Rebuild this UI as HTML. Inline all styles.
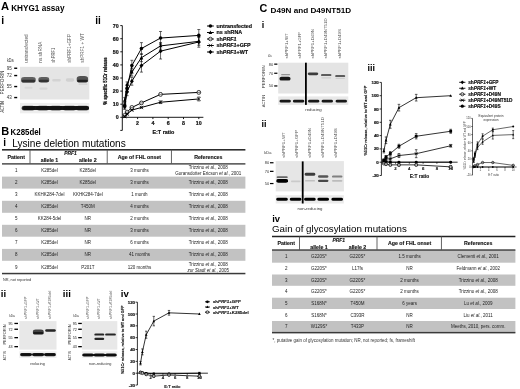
<!DOCTYPE html>
<html><head><meta charset="utf-8"><style>
html,body{margin:0;padding:0;background:#fff;width:520px;height:389px;overflow:hidden}
svg{display:block;will-change:transform}
text{font-family:'Liberation Sans', sans-serif;}
</style></head><body>
<svg width="520" height="389" viewBox="0 0 520 389">
<defs>
<filter id="b3" x="-50%" y="-100%" width="200%" height="300%"><feGaussianBlur stdDeviation="0.3"/></filter>
<filter id="b6" x="-50%" y="-100%" width="200%" height="300%"><feGaussianBlur stdDeviation="0.6"/></filter>
<filter id="b10" x="-50%" y="-100%" width="200%" height="300%"><feGaussianBlur stdDeviation="1.0"/></filter>
</defs>
<rect width="520" height="389" fill="#fff"/>
<text x="0.90" y="10.30" font-size="11.2" font-weight="bold" >A</text>
<text x="11.20" y="10.70" font-size="8.2" font-weight="bold" >KHYG1 assay</text>
<text x="1.30" y="24.10" font-size="10.4" font-weight="bold" >i</text>
<text x="95.20" y="23.90" font-size="10.0" font-weight="bold" >ii</text>
<text transform="translate(27.80,62.70) rotate(-90)" font-size="4.6" fill="#5a5a5a" textLength="28.300000000000004" lengthAdjust="spacingAndGlyphs" >untransfected</text>
<text transform="translate(42.10,62.70) rotate(-90)" font-size="4.6" fill="#5a5a5a" textLength="21.0" lengthAdjust="spacingAndGlyphs" >ns shRNA</text>
<text transform="translate(55.20,62.70) rotate(-90)" font-size="4.6" fill="#5a5a5a" textLength="14.900000000000006" lengthAdjust="spacingAndGlyphs" >shPRF1</text>
<text transform="translate(70.90,62.70) rotate(-90)" font-size="4.6" fill="#5a5a5a" textLength="28.700000000000003" lengthAdjust="spacingAndGlyphs" >shPRF1+GFP</text>
<text transform="translate(84.40,62.70) rotate(-90)" font-size="4.6" fill="#5a5a5a" textLength="29.5" lengthAdjust="spacingAndGlyphs" >shPRF1 + WT</text>
<text x="7.00" y="61.50" font-size="4.5" fill="#333" textLength="6.6" lengthAdjust="spacingAndGlyphs" >kDa</text>
<rect x="20.00" y="66.80" width="69.30" height="32.70" fill="#e5e5e5"/>
<rect x="20.00" y="102.90" width="69.30" height="10.40" fill="#eeeeee"/>
<text x="11.80" y="69.80" font-size="4.5" text-anchor="end" fill="#333" >95</text>
<rect x="14.20" y="67.55" width="3.00" height="1.40" fill="#000"/>
<text x="11.80" y="77.10" font-size="4.5" text-anchor="end" fill="#333" >72</text>
<rect x="14.20" y="74.85" width="3.00" height="1.40" fill="#000"/>
<text x="11.80" y="88.10" font-size="4.5" text-anchor="end" fill="#333" >55</text>
<rect x="14.20" y="85.85" width="3.00" height="1.40" fill="#000"/>
<text x="11.80" y="99.10" font-size="4.5" text-anchor="end" fill="#333" >43</text>
<rect x="14.20" y="96.85" width="3.00" height="1.40" fill="#000"/>
<text transform="translate(4.30,94.60) rotate(-90)" font-size="4.7" fill="#222" textLength="24.0" lengthAdjust="spacingAndGlyphs" >PERFORIN</text>
<text transform="translate(4.30,112.60) rotate(-90)" font-size="4.7" fill="#222" textLength="11.4" lengthAdjust="spacingAndGlyphs" >ACTIN</text>
<rect x="21.10" y="76.90" width="14.60" height="5.80" rx="3.19" ry="2.32" fill="#4a4a4a" opacity="0.85" filter="url(#b6)"/>
<rect x="21.60" y="79.80" width="13.60" height="2.40" rx="1.32" ry="0.96" fill="#111" opacity="0.55" filter="url(#b6)"/>
<rect x="38.40" y="77.00" width="10.80" height="5.60" rx="3.08" ry="2.24" fill="#4a4a4a" opacity="0.85" filter="url(#b6)"/>
<rect x="38.80" y="79.80" width="10.00" height="2.40" rx="1.32" ry="0.96" fill="#111" opacity="0.55" filter="url(#b6)"/>
<rect x="52.25" y="79.00" width="8.50" height="2.40" rx="1.32" ry="0.96" fill="#aaa" opacity="0.3" filter="url(#b6)"/>
<rect x="65.90" y="78.30" width="8.20" height="3.40" rx="1.87" ry="1.36" fill="#aaa" opacity="0.33" filter="url(#b6)"/>
<rect x="76.70" y="76.00" width="11.40" height="6.60" rx="3.63" ry="2.64" fill="#404040" opacity="0.88" filter="url(#b6)"/>
<rect x="77.20" y="79.80" width="10.60" height="2.40" rx="1.32" ry="0.96" fill="#000" opacity="0.6" filter="url(#b6)"/>
<rect x="24.50" y="86.80" width="8.00" height="2.00" rx="1.10" ry="0.80" fill="#aaa" opacity="0.2" filter="url(#b6)"/>
<rect x="39.50" y="87.40" width="8.00" height="2.40" rx="1.32" ry="0.96" fill="#aaa" opacity="0.25" filter="url(#b6)"/>
<rect x="78.50" y="83.60" width="9.00" height="1.20" rx="0.66" ry="0.48" fill="#999" opacity="0.3" filter="url(#b6)"/>
<rect x="22.20" y="106.10" width="66.80" height="4.00" rx="2.20" ry="1.60" fill="#111" opacity="0.95" filter="url(#b6)"/>
<rect x="21.55" y="105.80" width="13.50" height="4.60" rx="2.53" ry="1.84" fill="#0d0d0d" opacity="0.6" filter="url(#b6)"/>
<rect x="36.55" y="105.80" width="12.50" height="4.60" rx="2.53" ry="1.84" fill="#0d0d0d" opacity="0.6" filter="url(#b6)"/>
<rect x="49.55" y="105.80" width="12.50" height="4.60" rx="2.53" ry="1.84" fill="#0d0d0d" opacity="0.6" filter="url(#b6)"/>
<rect x="62.75" y="105.80" width="13.50" height="4.60" rx="2.53" ry="1.84" fill="#0d0d0d" opacity="0.6" filter="url(#b6)"/>
<rect x="76.00" y="105.80" width="13.00" height="4.60" rx="2.53" ry="1.84" fill="#0d0d0d" opacity="0.6" filter="url(#b6)"/>
<line x1="122.30" y1="25.60" x2="122.30" y2="130.40" stroke="#000" stroke-width="0.9"/>
<line x1="120.30" y1="130.40" x2="122.30" y2="130.40" stroke="#000" stroke-width="0.9"/>
<line x1="122.30" y1="117.30" x2="203.39" y2="117.30" stroke="#000" stroke-width="0.9"/>
<line x1="120.30" y1="117.30" x2="122.30" y2="117.30" stroke="#000" stroke-width="0.9"/>
<text x="118.70" y="119.20" font-size="5.3" stroke="#111" stroke-width="0.2" font-weight="bold" text-anchor="end" fill="#111" >0</text>
<line x1="120.30" y1="104.20" x2="122.30" y2="104.20" stroke="#000" stroke-width="0.9"/>
<text x="118.70" y="106.10" font-size="5.3" stroke="#111" stroke-width="0.2" font-weight="bold" text-anchor="end" fill="#111" >10</text>
<line x1="120.30" y1="91.10" x2="122.30" y2="91.10" stroke="#000" stroke-width="0.9"/>
<text x="118.70" y="93.00" font-size="5.3" stroke="#111" stroke-width="0.2" font-weight="bold" text-anchor="end" fill="#111" >20</text>
<line x1="120.30" y1="78.00" x2="122.30" y2="78.00" stroke="#000" stroke-width="0.9"/>
<text x="118.70" y="79.90" font-size="5.3" stroke="#111" stroke-width="0.2" font-weight="bold" text-anchor="end" fill="#111" >30</text>
<line x1="120.30" y1="64.90" x2="122.30" y2="64.90" stroke="#000" stroke-width="0.9"/>
<text x="118.70" y="66.80" font-size="5.3" stroke="#111" stroke-width="0.2" font-weight="bold" text-anchor="end" fill="#111" >40</text>
<line x1="120.30" y1="51.80" x2="122.30" y2="51.80" stroke="#000" stroke-width="0.9"/>
<text x="118.70" y="53.70" font-size="5.3" stroke="#111" stroke-width="0.2" font-weight="bold" text-anchor="end" fill="#111" >50</text>
<line x1="120.30" y1="38.70" x2="122.30" y2="38.70" stroke="#000" stroke-width="0.9"/>
<text x="118.70" y="40.60" font-size="5.3" stroke="#111" stroke-width="0.2" font-weight="bold" text-anchor="end" fill="#111" >60</text>
<line x1="120.30" y1="25.60" x2="122.30" y2="25.60" stroke="#000" stroke-width="0.9"/>
<text x="118.70" y="27.50" font-size="5.3" stroke="#111" stroke-width="0.2" font-weight="bold" text-anchor="end" fill="#111" >70</text>
<line x1="137.60" y1="117.30" x2="137.60" y2="119.10" stroke="#000" stroke-width="0.9"/>
<text x="137.60" y="124.50" font-size="5.3" stroke="#111" stroke-width="0.2" font-weight="bold" text-anchor="middle" fill="#111" >2</text>
<line x1="152.90" y1="117.30" x2="152.90" y2="119.10" stroke="#000" stroke-width="0.9"/>
<text x="152.90" y="124.50" font-size="5.3" stroke="#111" stroke-width="0.2" font-weight="bold" text-anchor="middle" fill="#111" >4</text>
<line x1="168.20" y1="117.30" x2="168.20" y2="119.10" stroke="#000" stroke-width="0.9"/>
<text x="168.20" y="124.50" font-size="5.3" stroke="#111" stroke-width="0.2" font-weight="bold" text-anchor="middle" fill="#111" >6</text>
<line x1="183.50" y1="117.30" x2="183.50" y2="119.10" stroke="#000" stroke-width="0.9"/>
<text x="183.50" y="124.50" font-size="5.3" stroke="#111" stroke-width="0.2" font-weight="bold" text-anchor="middle" fill="#111" >8</text>
<line x1="198.80" y1="117.30" x2="198.80" y2="119.10" stroke="#000" stroke-width="0.9"/>
<text x="198.80" y="124.50" font-size="5.3" stroke="#111" stroke-width="0.2" font-weight="bold" text-anchor="middle" fill="#111" >10</text>
<text x="163.40" y="133.80" font-size="5.4" stroke="#111" stroke-width="0.2" font-weight="bold" text-anchor="middle" fill="#111" >E:T ratio</text>
<text transform="translate(107.20,104.80) rotate(-90)" font-size="5.0" stroke="#111" stroke-width="0.25" font-weight="bold" fill="#111" textLength="47.5" lengthAdjust="spacingAndGlyphs" >% specific 51Cr release</text>
<path d="M124.69,105.51 L127.08,88.48 L131.86,65.55 L141.43,48.52 L160.55,38.04 L198.80,35.42" fill="none" stroke="#000" stroke-width="1.0"/>
<line x1="124.69" y1="102.89" x2="124.69" y2="108.13" stroke="#000" stroke-width="0.6"/>
<line x1="123.19" y1="102.89" x2="126.19" y2="102.89" stroke="#000" stroke-width="0.6"/>
<line x1="123.19" y1="108.13" x2="126.19" y2="108.13" stroke="#000" stroke-width="0.6"/>
<line x1="127.08" y1="84.55" x2="127.08" y2="92.41" stroke="#000" stroke-width="0.6"/>
<line x1="125.58" y1="84.55" x2="128.58" y2="84.55" stroke="#000" stroke-width="0.6"/>
<line x1="125.58" y1="92.41" x2="128.58" y2="92.41" stroke="#000" stroke-width="0.6"/>
<line x1="131.86" y1="60.31" x2="131.86" y2="70.79" stroke="#000" stroke-width="0.6"/>
<line x1="130.36" y1="60.31" x2="133.36" y2="60.31" stroke="#000" stroke-width="0.6"/>
<line x1="130.36" y1="70.79" x2="133.36" y2="70.79" stroke="#000" stroke-width="0.6"/>
<line x1="141.43" y1="42.63" x2="141.43" y2="54.42" stroke="#000" stroke-width="0.6"/>
<line x1="139.93" y1="42.63" x2="142.93" y2="42.63" stroke="#000" stroke-width="0.6"/>
<line x1="139.93" y1="54.42" x2="142.93" y2="54.42" stroke="#000" stroke-width="0.6"/>
<line x1="160.55" y1="31.49" x2="160.55" y2="44.59" stroke="#000" stroke-width="0.6"/>
<line x1="159.05" y1="31.49" x2="162.05" y2="31.49" stroke="#000" stroke-width="0.6"/>
<line x1="159.05" y1="44.59" x2="162.05" y2="44.59" stroke="#000" stroke-width="0.6"/>
<line x1="198.80" y1="29.53" x2="198.80" y2="41.32" stroke="#000" stroke-width="0.6"/>
<line x1="197.30" y1="29.53" x2="200.30" y2="29.53" stroke="#000" stroke-width="0.6"/>
<line x1="197.30" y1="41.32" x2="200.30" y2="41.32" stroke="#000" stroke-width="0.6"/>
<circle cx="124.69" cy="105.51" r="1.80" fill="#000"/>
<circle cx="127.08" cy="88.48" r="1.80" fill="#000"/>
<circle cx="131.86" cy="65.55" r="1.80" fill="#000"/>
<circle cx="141.43" cy="48.52" r="1.80" fill="#000"/>
<circle cx="160.55" cy="38.04" r="1.80" fill="#000"/>
<circle cx="198.80" cy="35.42" r="1.80" fill="#000"/>
<path d="M124.69,100.27 L127.08,84.55 L131.86,72.10 L141.43,57.69 L160.55,45.91 L198.80,41.32" fill="none" stroke="#000" stroke-width="1.0"/>
<line x1="124.69" y1="97.65" x2="124.69" y2="102.89" stroke="#000" stroke-width="0.6"/>
<line x1="123.19" y1="97.65" x2="126.19" y2="97.65" stroke="#000" stroke-width="0.6"/>
<line x1="123.19" y1="102.89" x2="126.19" y2="102.89" stroke="#000" stroke-width="0.6"/>
<line x1="127.08" y1="81.93" x2="127.08" y2="87.17" stroke="#000" stroke-width="0.6"/>
<line x1="125.58" y1="81.93" x2="128.58" y2="81.93" stroke="#000" stroke-width="0.6"/>
<line x1="125.58" y1="87.17" x2="128.58" y2="87.17" stroke="#000" stroke-width="0.6"/>
<line x1="131.86" y1="68.17" x2="131.86" y2="76.03" stroke="#000" stroke-width="0.6"/>
<line x1="130.36" y1="68.17" x2="133.36" y2="68.17" stroke="#000" stroke-width="0.6"/>
<line x1="130.36" y1="76.03" x2="133.36" y2="76.03" stroke="#000" stroke-width="0.6"/>
<line x1="141.43" y1="53.76" x2="141.43" y2="61.62" stroke="#000" stroke-width="0.6"/>
<line x1="139.93" y1="53.76" x2="142.93" y2="53.76" stroke="#000" stroke-width="0.6"/>
<line x1="139.93" y1="61.62" x2="142.93" y2="61.62" stroke="#000" stroke-width="0.6"/>
<line x1="160.55" y1="42.63" x2="160.55" y2="49.18" stroke="#000" stroke-width="0.6"/>
<line x1="159.05" y1="42.63" x2="162.05" y2="42.63" stroke="#000" stroke-width="0.6"/>
<line x1="159.05" y1="49.18" x2="162.05" y2="49.18" stroke="#000" stroke-width="0.6"/>
<line x1="198.80" y1="37.39" x2="198.80" y2="45.25" stroke="#000" stroke-width="0.6"/>
<line x1="197.30" y1="37.39" x2="200.30" y2="37.39" stroke="#000" stroke-width="0.6"/>
<line x1="197.30" y1="45.25" x2="200.30" y2="45.25" stroke="#000" stroke-width="0.6"/>
<path d="M124.69,98.29 L126.49,101.71 L122.89,101.71Z" fill="#000"/>
<path d="M127.08,82.57 L128.88,85.99 L125.28,85.99Z" fill="#000"/>
<path d="M131.86,70.12 L133.66,73.54 L130.06,73.54Z" fill="#000"/>
<path d="M141.43,55.71 L143.23,59.13 L139.62,59.13Z" fill="#000"/>
<path d="M160.55,43.93 L162.35,47.34 L158.75,47.34Z" fill="#000"/>
<path d="M198.80,39.34 L200.60,42.76 L197.00,42.76Z" fill="#000"/>
<path d="M124.69,115.33 L127.08,112.06 L131.86,107.47 L141.43,102.89 L160.55,94.38 L198.80,92.41" fill="none" stroke="#000" stroke-width="1.0"/>
<line x1="124.69" y1="114.68" x2="124.69" y2="115.99" stroke="#000" stroke-width="0.6"/>
<line x1="123.19" y1="114.68" x2="126.19" y2="114.68" stroke="#000" stroke-width="0.6"/>
<line x1="123.19" y1="115.99" x2="126.19" y2="115.99" stroke="#000" stroke-width="0.6"/>
<line x1="127.08" y1="111.01" x2="127.08" y2="113.11" stroke="#000" stroke-width="0.6"/>
<line x1="125.58" y1="111.01" x2="128.58" y2="111.01" stroke="#000" stroke-width="0.6"/>
<line x1="125.58" y1="113.11" x2="128.58" y2="113.11" stroke="#000" stroke-width="0.6"/>
<line x1="131.86" y1="106.16" x2="131.86" y2="108.78" stroke="#000" stroke-width="0.6"/>
<line x1="130.36" y1="106.16" x2="133.36" y2="106.16" stroke="#000" stroke-width="0.6"/>
<line x1="130.36" y1="108.78" x2="133.36" y2="108.78" stroke="#000" stroke-width="0.6"/>
<line x1="141.43" y1="101.58" x2="141.43" y2="104.20" stroke="#000" stroke-width="0.6"/>
<line x1="139.93" y1="101.58" x2="142.93" y2="101.58" stroke="#000" stroke-width="0.6"/>
<line x1="139.93" y1="104.20" x2="142.93" y2="104.20" stroke="#000" stroke-width="0.6"/>
<line x1="160.55" y1="93.06" x2="160.55" y2="95.69" stroke="#000" stroke-width="0.6"/>
<line x1="159.05" y1="93.06" x2="162.05" y2="93.06" stroke="#000" stroke-width="0.6"/>
<line x1="159.05" y1="95.69" x2="162.05" y2="95.69" stroke="#000" stroke-width="0.6"/>
<line x1="198.80" y1="91.10" x2="198.80" y2="93.72" stroke="#000" stroke-width="0.6"/>
<line x1="197.30" y1="91.10" x2="200.30" y2="91.10" stroke="#000" stroke-width="0.6"/>
<line x1="197.30" y1="93.72" x2="200.30" y2="93.72" stroke="#000" stroke-width="0.6"/>
<circle cx="124.69" cy="115.33" r="1.90" fill="#fff" stroke="#000" stroke-width="0.7"/>
<line x1="122.79" y1="115.33" x2="126.59" y2="115.33" stroke="#000" stroke-width="0.5"/>
<circle cx="127.08" cy="112.06" r="1.90" fill="#fff" stroke="#000" stroke-width="0.7"/>
<line x1="125.18" y1="112.06" x2="128.98" y2="112.06" stroke="#000" stroke-width="0.5"/>
<circle cx="131.86" cy="107.47" r="1.90" fill="#fff" stroke="#000" stroke-width="0.7"/>
<line x1="129.96" y1="107.47" x2="133.76" y2="107.47" stroke="#000" stroke-width="0.5"/>
<circle cx="141.43" cy="102.89" r="1.90" fill="#fff" stroke="#000" stroke-width="0.7"/>
<line x1="139.53" y1="102.89" x2="143.33" y2="102.89" stroke="#000" stroke-width="0.5"/>
<circle cx="160.55" cy="94.38" r="1.90" fill="#fff" stroke="#000" stroke-width="0.7"/>
<line x1="158.65" y1="94.38" x2="162.45" y2="94.38" stroke="#000" stroke-width="0.5"/>
<circle cx="198.80" cy="92.41" r="1.90" fill="#fff" stroke="#000" stroke-width="0.7"/>
<line x1="196.90" y1="92.41" x2="200.70" y2="92.41" stroke="#000" stroke-width="0.5"/>
<path d="M124.69,116.64 L127.08,114.02 L131.86,110.09 L141.43,107.47 L160.55,102.23 L198.80,98.96" fill="none" stroke="#000" stroke-width="1.0"/>
<line x1="124.69" y1="115.99" x2="124.69" y2="117.30" stroke="#000" stroke-width="0.6"/>
<line x1="123.19" y1="115.99" x2="126.19" y2="115.99" stroke="#000" stroke-width="0.6"/>
<line x1="123.19" y1="117.30" x2="126.19" y2="117.30" stroke="#000" stroke-width="0.6"/>
<line x1="127.08" y1="113.37" x2="127.08" y2="114.68" stroke="#000" stroke-width="0.6"/>
<line x1="125.58" y1="113.37" x2="128.58" y2="113.37" stroke="#000" stroke-width="0.6"/>
<line x1="125.58" y1="114.68" x2="128.58" y2="114.68" stroke="#000" stroke-width="0.6"/>
<line x1="131.86" y1="109.44" x2="131.86" y2="110.75" stroke="#000" stroke-width="0.6"/>
<line x1="130.36" y1="109.44" x2="133.36" y2="109.44" stroke="#000" stroke-width="0.6"/>
<line x1="130.36" y1="110.75" x2="133.36" y2="110.75" stroke="#000" stroke-width="0.6"/>
<line x1="141.43" y1="106.82" x2="141.43" y2="108.13" stroke="#000" stroke-width="0.6"/>
<line x1="139.93" y1="106.82" x2="142.93" y2="106.82" stroke="#000" stroke-width="0.6"/>
<line x1="139.93" y1="108.13" x2="142.93" y2="108.13" stroke="#000" stroke-width="0.6"/>
<line x1="160.55" y1="100.92" x2="160.55" y2="103.55" stroke="#000" stroke-width="0.6"/>
<line x1="159.05" y1="100.92" x2="162.05" y2="100.92" stroke="#000" stroke-width="0.6"/>
<line x1="159.05" y1="103.55" x2="162.05" y2="103.55" stroke="#000" stroke-width="0.6"/>
<line x1="198.80" y1="97.00" x2="198.80" y2="100.92" stroke="#000" stroke-width="0.6"/>
<line x1="197.30" y1="97.00" x2="200.30" y2="97.00" stroke="#000" stroke-width="0.6"/>
<line x1="197.30" y1="100.92" x2="200.30" y2="100.92" stroke="#000" stroke-width="0.6"/>
<line x1="122.99" y1="114.94" x2="126.39" y2="118.34" stroke="#000" stroke-width="0.7"/>
<line x1="122.99" y1="118.34" x2="126.39" y2="114.94" stroke="#000" stroke-width="0.7"/>
<line x1="125.38" y1="112.32" x2="128.78" y2="115.72" stroke="#000" stroke-width="0.7"/>
<line x1="125.38" y1="115.72" x2="128.78" y2="112.32" stroke="#000" stroke-width="0.7"/>
<line x1="130.16" y1="108.39" x2="133.56" y2="111.80" stroke="#000" stroke-width="0.7"/>
<line x1="130.16" y1="111.80" x2="133.56" y2="108.39" stroke="#000" stroke-width="0.7"/>
<line x1="139.73" y1="105.77" x2="143.12" y2="109.17" stroke="#000" stroke-width="0.7"/>
<line x1="139.73" y1="109.17" x2="143.12" y2="105.77" stroke="#000" stroke-width="0.7"/>
<line x1="158.85" y1="100.53" x2="162.25" y2="103.94" stroke="#000" stroke-width="0.7"/>
<line x1="158.85" y1="103.94" x2="162.25" y2="100.53" stroke="#000" stroke-width="0.7"/>
<line x1="197.10" y1="97.26" x2="200.50" y2="100.66" stroke="#000" stroke-width="0.7"/>
<line x1="197.10" y1="100.66" x2="200.50" y2="97.26" stroke="#000" stroke-width="0.7"/>
<path d="M124.69,106.82 L127.08,91.75 L131.86,81.28 L141.43,65.55 L160.55,51.14 L198.80,41.97" fill="none" stroke="#000" stroke-width="1.0"/>
<line x1="124.69" y1="104.20" x2="124.69" y2="109.44" stroke="#000" stroke-width="0.6"/>
<line x1="123.19" y1="104.20" x2="126.19" y2="104.20" stroke="#000" stroke-width="0.6"/>
<line x1="123.19" y1="109.44" x2="126.19" y2="109.44" stroke="#000" stroke-width="0.6"/>
<line x1="127.08" y1="87.82" x2="127.08" y2="95.69" stroke="#000" stroke-width="0.6"/>
<line x1="125.58" y1="87.82" x2="128.58" y2="87.82" stroke="#000" stroke-width="0.6"/>
<line x1="125.58" y1="95.69" x2="128.58" y2="95.69" stroke="#000" stroke-width="0.6"/>
<line x1="131.86" y1="77.34" x2="131.86" y2="85.20" stroke="#000" stroke-width="0.6"/>
<line x1="130.36" y1="77.34" x2="133.36" y2="77.34" stroke="#000" stroke-width="0.6"/>
<line x1="130.36" y1="85.20" x2="133.36" y2="85.20" stroke="#000" stroke-width="0.6"/>
<line x1="141.43" y1="59.00" x2="141.43" y2="72.10" stroke="#000" stroke-width="0.6"/>
<line x1="139.93" y1="59.00" x2="142.93" y2="59.00" stroke="#000" stroke-width="0.6"/>
<line x1="139.93" y1="72.10" x2="142.93" y2="72.10" stroke="#000" stroke-width="0.6"/>
<line x1="160.55" y1="43.28" x2="160.55" y2="59.00" stroke="#000" stroke-width="0.6"/>
<line x1="159.05" y1="43.28" x2="162.05" y2="43.28" stroke="#000" stroke-width="0.6"/>
<line x1="159.05" y1="59.00" x2="162.05" y2="59.00" stroke="#000" stroke-width="0.6"/>
<line x1="198.80" y1="36.73" x2="198.80" y2="47.21" stroke="#000" stroke-width="0.6"/>
<line x1="197.30" y1="36.73" x2="200.30" y2="36.73" stroke="#000" stroke-width="0.6"/>
<line x1="197.30" y1="47.21" x2="200.30" y2="47.21" stroke="#000" stroke-width="0.6"/>
<path d="M124.69,104.66 L126.67,106.82 L124.69,108.98 L122.71,106.82Z" fill="#000"/>
<path d="M127.08,89.59 L129.06,91.75 L127.08,93.91 L125.10,91.75Z" fill="#000"/>
<path d="M131.86,79.12 L133.84,81.28 L131.86,83.44 L129.88,81.28Z" fill="#000"/>
<path d="M141.43,63.39 L143.41,65.55 L141.43,67.71 L139.45,65.55Z" fill="#000"/>
<path d="M160.55,48.98 L162.53,51.14 L160.55,53.30 L158.57,51.14Z" fill="#000"/>
<path d="M198.80,39.81 L200.78,41.97 L198.80,44.13 L196.82,41.97Z" fill="#000"/>
<line x1="207.00" y1="26.00" x2="213.80" y2="26.00" stroke="#000" stroke-width="1.0"/>
<circle cx="210.40" cy="26.00" r="1.80" fill="#000"/>
<text x="216.60" y="27.90" font-size="5.35" stroke="#111" stroke-width="0.2" font-weight="bold" fill="#111" >untransfected</text>
<line x1="207.00" y1="32.50" x2="213.80" y2="32.50" stroke="#000" stroke-width="1.0"/>
<path d="M210.40,30.52 L212.20,33.94 L208.60,33.94Z" fill="#000"/>
<text x="216.60" y="34.40" font-size="5.35" stroke="#111" stroke-width="0.2" font-weight="bold" fill="#111" >ns shRNA</text>
<line x1="207.00" y1="39.00" x2="213.80" y2="39.00" stroke="#000" stroke-width="1.0"/>
<circle cx="210.40" cy="39.00" r="1.80" fill="#fff" stroke="#000" stroke-width="0.7"/>
<line x1="208.60" y1="39.00" x2="212.20" y2="39.00" stroke="#000" stroke-width="0.5"/>
<text x="216.60" y="40.90" font-size="5.35" stroke="#111" stroke-width="0.2" font-weight="bold" fill="#111" >sh<tspan font-style="italic">PRF1</tspan></text>
<line x1="207.00" y1="45.50" x2="213.80" y2="45.50" stroke="#000" stroke-width="1.0"/>
<line x1="208.60" y1="43.70" x2="212.20" y2="47.30" stroke="#000" stroke-width="0.7"/>
<line x1="208.60" y1="47.30" x2="212.20" y2="43.70" stroke="#000" stroke-width="0.7"/>
<text x="216.60" y="47.40" font-size="5.35" stroke="#111" stroke-width="0.2" font-weight="bold" fill="#111" >sh<tspan font-style="italic">PRF1</tspan>+GFP</text>
<line x1="207.00" y1="52.00" x2="213.80" y2="52.00" stroke="#000" stroke-width="1.0"/>
<path d="M210.40,49.84 L212.38,52.00 L210.40,54.16 L208.42,52.00Z" fill="#000"/>
<text x="216.60" y="53.90" font-size="5.35" stroke="#111" stroke-width="0.2" font-weight="bold" fill="#111" >sh<tspan font-style="italic">PRF1</tspan>+WT</text>
<text x="1.30" y="135.20" font-size="11.0" font-weight="bold" >B</text>
<text x="10.60" y="135.10" font-size="8.4" font-weight="bold" textLength="30.2" lengthAdjust="spacingAndGlyphs" >K285del</text>
<text x="3.30" y="146.40" font-size="10.0" font-weight="bold" >i</text>
<text x="12.20" y="146.60" font-size="10.1" textLength="113.6" lengthAdjust="spacingAndGlyphs" >Lysine deletion mutations</text>
<rect x="2.00" y="149.05" width="243.40" height="1.50" fill="#222"/>
<rect x="2.00" y="176.60" width="243.40" height="12.00" fill="#c2c2c2"/>
<rect x="2.00" y="200.80" width="243.40" height="12.00" fill="#c2c2c2"/>
<rect x="2.00" y="224.80" width="243.40" height="11.90" fill="#c2c2c2"/>
<rect x="2.00" y="248.90" width="243.40" height="11.90" fill="#c2c2c2"/>
<rect x="2.00" y="163.30" width="243.40" height="1.20" fill="#222"/>
<rect x="2.00" y="272.80" width="243.40" height="1.50" fill="#3a3a3a"/>
<rect x="29.55" y="149.80" width="0.90" height="14.10" fill="#555"/>
<rect x="106.75" y="149.80" width="0.90" height="14.10" fill="#555"/>
<rect x="170.95" y="149.80" width="0.90" height="14.10" fill="#555"/>
<text x="16.20" y="158.80" font-size="5.25" stroke="#111" stroke-width="0.12" font-weight="bold" text-anchor="middle" fill="#111" >Patient</text>
<text x="70.50" y="155.20" font-size="4.9" stroke="#111" stroke-width="0.12" font-weight="bold" text-anchor="middle" font-style="italic" fill="#111" >PRF1</text>
<text x="49.50" y="161.80" font-size="5.25" stroke="#111" stroke-width="0.12" font-weight="bold" text-anchor="middle" fill="#111" >allele 1</text>
<text x="87.80" y="161.80" font-size="5.25" stroke="#111" stroke-width="0.12" font-weight="bold" text-anchor="middle" fill="#111" >allele 2</text>
<text x="139.40" y="158.80" font-size="5.25" stroke="#111" stroke-width="0.12" font-weight="bold" text-anchor="middle" fill="#111" >Age of FHL onset</text>
<text x="208.30" y="158.80" font-size="5.25" stroke="#111" stroke-width="0.12" font-weight="bold" text-anchor="middle" fill="#111" >References</text>
<text x="16.20" y="171.92" font-size="4.5" text-anchor="middle" fill="#222" >1</text>
<text x="49.50" y="171.92" font-size="4.5" text-anchor="middle" fill="#222" >K285del</text>
<text x="87.80" y="171.92" font-size="4.5" text-anchor="middle" fill="#222" >K285del</text>
<text x="139.40" y="171.92" font-size="4.5" text-anchor="middle" fill="#222" >3 months</text>
<text x="208.30" y="169.12" font-size="4.5" text-anchor="middle" fill="#222" >Trizzino <tspan font-style="italic">et al.</tspan>, 2008</text>
<text x="208.30" y="174.72" font-size="4.5" text-anchor="middle" fill="#222" >Goransdotter Ericson <tspan font-style="italic">et al.</tspan>, 2001</text>
<text x="16.20" y="184.22" font-size="4.5" text-anchor="middle" fill="#222" >2</text>
<text x="49.50" y="184.22" font-size="4.5" text-anchor="middle" fill="#222" >K285del</text>
<text x="87.80" y="184.22" font-size="4.5" text-anchor="middle" fill="#222" >K285del</text>
<text x="139.40" y="184.22" font-size="4.5" text-anchor="middle" fill="#222" >3 months</text>
<text x="208.30" y="184.22" font-size="4.5" text-anchor="middle" fill="#222" >Trizzino <tspan font-style="italic">et al.</tspan>, 2008</text>
<text x="16.20" y="196.32" font-size="4.5" text-anchor="middle" fill="#222" >3</text>
<text x="49.50" y="196.32" font-size="4.5" text-anchor="middle" fill="#222" >KKHK284-7del</text>
<text x="87.80" y="196.32" font-size="4.5" text-anchor="middle" fill="#222" >KKHK284-7del</text>
<text x="139.40" y="196.32" font-size="4.5" text-anchor="middle" fill="#222" >1 month</text>
<text x="208.30" y="196.32" font-size="4.5" text-anchor="middle" fill="#222" >Trizzino <tspan font-style="italic">et al.</tspan>, 2008</text>
<text x="16.20" y="208.42" font-size="4.5" text-anchor="middle" fill="#222" >4</text>
<text x="49.50" y="208.42" font-size="4.5" text-anchor="middle" fill="#222" >K285del</text>
<text x="87.80" y="208.42" font-size="4.5" text-anchor="middle" fill="#222" >T450M</text>
<text x="139.40" y="208.42" font-size="4.5" text-anchor="middle" fill="#222" >4 months</text>
<text x="208.30" y="208.42" font-size="4.5" text-anchor="middle" fill="#222" >Trizzino <tspan font-style="italic">et al.</tspan>, 2008</text>
<text x="16.20" y="220.42" font-size="4.5" text-anchor="middle" fill="#222" >5</text>
<text x="49.50" y="220.42" font-size="4.5" text-anchor="middle" fill="#222" >KK284-5del</text>
<text x="87.80" y="220.42" font-size="4.5" text-anchor="middle" fill="#222" >NR</text>
<text x="139.40" y="220.42" font-size="4.5" text-anchor="middle" fill="#222" >2 months</text>
<text x="208.30" y="220.42" font-size="4.5" text-anchor="middle" fill="#222" >Trizzino <tspan font-style="italic">et al.</tspan>, 2008</text>
<text x="16.20" y="232.37" font-size="4.5" text-anchor="middle" fill="#222" >6</text>
<text x="49.50" y="232.37" font-size="4.5" text-anchor="middle" fill="#222" >K285del</text>
<text x="87.80" y="232.37" font-size="4.5" text-anchor="middle" fill="#222" >NR</text>
<text x="139.40" y="232.37" font-size="4.5" text-anchor="middle" fill="#222" >3 months</text>
<text x="208.30" y="232.37" font-size="4.5" text-anchor="middle" fill="#222" >Trizzino <tspan font-style="italic">et al.</tspan>, 2008</text>
<text x="16.20" y="244.42" font-size="4.5" text-anchor="middle" fill="#222" >7</text>
<text x="49.50" y="244.42" font-size="4.5" text-anchor="middle" fill="#222" >K285del</text>
<text x="87.80" y="244.42" font-size="4.5" text-anchor="middle" fill="#222" >NR</text>
<text x="139.40" y="244.42" font-size="4.5" text-anchor="middle" fill="#222" >6 months</text>
<text x="208.30" y="244.42" font-size="4.5" text-anchor="middle" fill="#222" >Trizzino <tspan font-style="italic">et al.</tspan>, 2008</text>
<text x="16.20" y="256.47" font-size="4.5" text-anchor="middle" fill="#222" >8</text>
<text x="49.50" y="256.47" font-size="4.5" text-anchor="middle" fill="#222" >K285del</text>
<text x="87.80" y="256.47" font-size="4.5" text-anchor="middle" fill="#222" >NR</text>
<text x="139.40" y="256.47" font-size="4.5" text-anchor="middle" fill="#222" >41 months</text>
<text x="208.30" y="256.47" font-size="4.5" text-anchor="middle" fill="#222" >Trizzino <tspan font-style="italic">et al.</tspan>, 2008</text>
<text x="16.20" y="268.77" font-size="4.5" text-anchor="middle" fill="#222" >9</text>
<text x="49.50" y="268.77" font-size="4.5" text-anchor="middle" fill="#222" >K285del</text>
<text x="87.80" y="268.77" font-size="4.5" text-anchor="middle" fill="#222" >P201T</text>
<text x="139.40" y="268.77" font-size="4.5" text-anchor="middle" fill="#222" >120 months</text>
<text x="208.30" y="265.97" font-size="4.5" text-anchor="middle" fill="#222" >Trizzino <tspan font-style="italic">et al.</tspan>, 2008</text>
<text x="208.30" y="271.57" font-size="4.5" text-anchor="middle" fill="#222" ><tspan font-style="italic">zur Stadt et al.</tspan>, 2005</text>
<text x="2.90" y="281.40" font-size="3.84" fill="#333" >NR, not reported</text>
<text x="0.80" y="297.00" font-size="9.6" font-weight="bold" >ii</text>
<text x="62.80" y="297.00" font-size="9.6" font-weight="bold" >iii</text>
<text x="120.80" y="297.00" font-size="9.6" font-weight="bold" >iv</text>
<text transform="translate(26.60,318.90) rotate(-90)" font-size="3.6" fill="#555" textLength="22.2" lengthAdjust="spacingAndGlyphs" >shPRF1+GFP</text>
<text transform="translate(38.50,318.90) rotate(-90)" font-size="3.6" fill="#555" textLength="20.6" lengthAdjust="spacingAndGlyphs" >shPRF1+WT</text>
<text transform="translate(51.10,318.90) rotate(-90)" font-size="3.6" fill="#555" textLength="28.1" lengthAdjust="spacingAndGlyphs" >shPRF1+K285del</text>
<text x="9.20" y="317.40" font-size="3.6" fill="#333" textLength="5.6896" lengthAdjust="spacingAndGlyphs" >kDa</text>
<rect x="19.30" y="321.10" width="37.20" height="28.50" fill="#e8e8e8"/>
<rect x="19.30" y="351.20" width="37.20" height="6.80" fill="#f0f0f0"/>
<text x="12.60" y="324.70" font-size="3.7" text-anchor="end" fill="#222" >95</text>
<rect x="14.40" y="322.80" width="3.60" height="1.30" fill="#000"/>
<text x="12.60" y="330.50" font-size="3.7" text-anchor="end" fill="#222" >72</text>
<rect x="14.40" y="328.60" width="3.60" height="1.30" fill="#000"/>
<text x="12.60" y="338.90" font-size="3.7" text-anchor="end" fill="#222" >55</text>
<rect x="14.40" y="337.00" width="3.60" height="1.30" fill="#000"/>
<text x="12.60" y="347.90" font-size="3.7" text-anchor="end" fill="#222" >43</text>
<rect x="14.40" y="346.00" width="3.60" height="1.30" fill="#000"/>
<text transform="translate(6.30,344.50) rotate(-90)" font-size="3.9" fill="#333" textLength="20" lengthAdjust="spacingAndGlyphs" >PERFORIN</text>
<text transform="translate(6.30,360.30) rotate(-90)" font-size="3.9" fill="#333" textLength="9.3" lengthAdjust="spacingAndGlyphs" >ACTIN</text>
<rect x="32.90" y="329.50" width="10.80" height="5.00" rx="2.75" ry="2.00" fill="#333" opacity="0.9" filter="url(#b6)"/>
<rect x="33.10" y="332.10" width="10.40" height="2.20" rx="1.21" ry="0.88" fill="#000" opacity="0.6" filter="url(#b6)"/>
<rect x="45.20" y="329.30" width="10.60" height="2.40" rx="1.32" ry="0.96" fill="#151515" opacity="0.92" filter="url(#b6)"/>
<rect x="20.30" y="353.00" width="11.00" height="3.20" rx="1.76" ry="1.28" fill="#0d0d0d" opacity="0.95" filter="url(#b6)"/>
<rect x="32.70" y="353.00" width="11.00" height="3.20" rx="1.76" ry="1.28" fill="#0d0d0d" opacity="0.95" filter="url(#b6)"/>
<rect x="44.70" y="353.00" width="11.00" height="3.20" rx="1.76" ry="1.28" fill="#0d0d0d" opacity="0.95" filter="url(#b6)"/>
<rect x="20.50" y="353.60" width="35.00" height="2.00" rx="1.10" ry="0.80" fill="#111" opacity="0.9" filter="url(#b6)"/>
<text x="37.50" y="364.50" font-size="3.85" text-anchor="middle" fill="#333" >reducing</text>
<text transform="translate(88.50,318.90) rotate(-90)" font-size="3.6" fill="#555" textLength="22.2" lengthAdjust="spacingAndGlyphs" >shPRF1+GFP</text>
<text transform="translate(99.80,318.90) rotate(-90)" font-size="3.6" fill="#555" textLength="20.6" lengthAdjust="spacingAndGlyphs" >shPRF1+WT</text>
<text transform="translate(112.10,318.90) rotate(-90)" font-size="3.6" fill="#555" textLength="28.1" lengthAdjust="spacingAndGlyphs" >shPRF1+K285del</text>
<text x="73.20" y="317.40" font-size="3.6" fill="#333" textLength="5.6896" lengthAdjust="spacingAndGlyphs" >kDa</text>
<rect x="81.90" y="321.10" width="35.40" height="28.50" fill="#e8e8e8"/>
<rect x="81.90" y="351.20" width="35.40" height="6.80" fill="#f0f0f0"/>
<text x="76.90" y="324.70" font-size="3.7" text-anchor="end" fill="#222" >95</text>
<rect x="78.20" y="322.80" width="3.60" height="1.30" fill="#000"/>
<text x="76.90" y="330.50" font-size="3.7" text-anchor="end" fill="#222" >72</text>
<rect x="78.20" y="328.60" width="3.60" height="1.30" fill="#000"/>
<text x="76.90" y="338.90" font-size="3.7" text-anchor="end" fill="#222" >55</text>
<rect x="78.20" y="337.00" width="3.60" height="1.30" fill="#000"/>
<text x="76.90" y="347.90" font-size="3.7" text-anchor="end" fill="#222" >43</text>
<rect x="78.20" y="346.00" width="3.60" height="1.30" fill="#000"/>
<text transform="translate(70.60,344.50) rotate(-90)" font-size="3.9" fill="#333" textLength="20" lengthAdjust="spacingAndGlyphs" >PERFORIN</text>
<text transform="translate(70.60,360.30) rotate(-90)" font-size="3.9" fill="#333" textLength="9.3" lengthAdjust="spacingAndGlyphs" >ACTIN</text>
<rect x="94.40" y="333.40" width="9.80" height="2.20" rx="1.21" ry="0.88" fill="#151515" opacity="0.92" filter="url(#b6)"/>
<rect x="94.40" y="337.80" width="9.80" height="2.20" rx="1.21" ry="0.88" fill="#151515" opacity="0.92" filter="url(#b6)"/>
<rect x="105.20" y="333.40" width="10.60" height="2.20" rx="1.21" ry="0.88" fill="#151515" opacity="0.92" filter="url(#b6)"/>
<rect x="82.50" y="353.40" width="11.00" height="3.20" rx="1.76" ry="1.28" fill="#0d0d0d" opacity="0.95" filter="url(#b6)"/>
<rect x="93.90" y="353.40" width="11.00" height="3.20" rx="1.76" ry="1.28" fill="#0d0d0d" opacity="0.95" filter="url(#b6)"/>
<rect x="105.50" y="353.40" width="11.00" height="3.20" rx="1.76" ry="1.28" fill="#0d0d0d" opacity="0.95" filter="url(#b6)"/>
<rect x="82.50" y="354.00" width="34.00" height="2.00" rx="1.10" ry="0.80" fill="#111" opacity="0.9" filter="url(#b6)"/>
<text x="100.30" y="364.50" font-size="3.85" text-anchor="middle" fill="#333" >non-reducing</text>
<line x1="137.40" y1="302.16" x2="137.40" y2="385.04" stroke="#000" stroke-width="0.8"/>
<line x1="137.40" y1="373.20" x2="207.91" y2="373.20" stroke="#000" stroke-width="0.8"/>
<line x1="135.60" y1="385.04" x2="137.40" y2="385.04" stroke="#000" stroke-width="0.8"/>
<text x="135.00" y="386.54" font-size="4.3" stroke="#222" stroke-width="0.22" font-weight="bold" text-anchor="end" fill="#222" >-20</text>
<line x1="135.60" y1="373.20" x2="137.40" y2="373.20" stroke="#000" stroke-width="0.8"/>
<text x="135.00" y="374.70" font-size="4.3" stroke="#222" stroke-width="0.22" font-weight="bold" text-anchor="end" fill="#222" >0</text>
<line x1="135.60" y1="361.36" x2="137.40" y2="361.36" stroke="#000" stroke-width="0.8"/>
<text x="135.00" y="362.86" font-size="4.3" stroke="#222" stroke-width="0.22" font-weight="bold" text-anchor="end" fill="#222" >20</text>
<line x1="135.60" y1="349.52" x2="137.40" y2="349.52" stroke="#000" stroke-width="0.8"/>
<text x="135.00" y="351.02" font-size="4.3" stroke="#222" stroke-width="0.22" font-weight="bold" text-anchor="end" fill="#222" >40</text>
<line x1="135.60" y1="337.68" x2="137.40" y2="337.68" stroke="#000" stroke-width="0.8"/>
<text x="135.00" y="339.18" font-size="4.3" stroke="#222" stroke-width="0.22" font-weight="bold" text-anchor="end" fill="#222" >60</text>
<line x1="135.60" y1="325.84" x2="137.40" y2="325.84" stroke="#000" stroke-width="0.8"/>
<text x="135.00" y="327.34" font-size="4.3" stroke="#222" stroke-width="0.22" font-weight="bold" text-anchor="end" fill="#222" >80</text>
<line x1="135.60" y1="314.00" x2="137.40" y2="314.00" stroke="#000" stroke-width="0.8"/>
<text x="135.00" y="315.50" font-size="4.3" stroke="#222" stroke-width="0.22" font-weight="bold" text-anchor="end" fill="#222" >100</text>
<line x1="135.60" y1="302.16" x2="137.40" y2="302.16" stroke="#000" stroke-width="0.8"/>
<text x="135.00" y="303.66" font-size="4.3" stroke="#222" stroke-width="0.22" font-weight="bold" text-anchor="end" fill="#222" >120</text>
<line x1="150.76" y1="373.20" x2="150.76" y2="374.70" stroke="#000" stroke-width="0.8"/>
<text x="150.76" y="379.40" font-size="4.2" stroke="#222" stroke-width="0.15" font-weight="bold" text-anchor="middle" fill="#222" >2</text>
<line x1="162.92" y1="373.20" x2="162.92" y2="374.70" stroke="#000" stroke-width="0.8"/>
<text x="162.92" y="379.40" font-size="4.2" stroke="#222" stroke-width="0.15" font-weight="bold" text-anchor="middle" fill="#222" >4</text>
<line x1="175.08" y1="373.20" x2="175.08" y2="374.70" stroke="#000" stroke-width="0.8"/>
<text x="175.08" y="379.40" font-size="4.2" stroke="#222" stroke-width="0.15" font-weight="bold" text-anchor="middle" fill="#222" >6</text>
<line x1="187.24" y1="373.20" x2="187.24" y2="374.70" stroke="#000" stroke-width="0.8"/>
<text x="187.24" y="379.40" font-size="4.2" stroke="#222" stroke-width="0.15" font-weight="bold" text-anchor="middle" fill="#222" >8</text>
<line x1="199.40" y1="373.20" x2="199.40" y2="374.70" stroke="#000" stroke-width="0.8"/>
<text x="199.40" y="379.40" font-size="4.2" stroke="#222" stroke-width="0.15" font-weight="bold" text-anchor="middle" fill="#222" >10</text>
<text x="172.30" y="387.60" font-size="4.3" stroke="#222" stroke-width="0.15" font-weight="bold" text-anchor="middle" fill="#222" textLength="16.0" lengthAdjust="spacingAndGlyphs" >E:T ratio</text>
<text transform="translate(124.20,374.00) rotate(-90)" font-size="4.4" stroke="#222" stroke-width="0.15" font-weight="bold" fill="#222" textLength="68.4" lengthAdjust="spacingAndGlyphs" >%51Cr release, relative to WT and GFP</text>
<path d="M140.50,372.02 L142.40,372.61 L146.20,373.20 L153.80,373.79 L169.00,373.79 L199.40,373.20" fill="none" stroke="#000" stroke-width="0.8"/>
<line x1="140.50" y1="371.42" x2="140.50" y2="372.61" stroke="#000" stroke-width="0.6"/>
<line x1="139.30" y1="371.42" x2="141.70" y2="371.42" stroke="#000" stroke-width="0.6"/>
<line x1="139.30" y1="372.61" x2="141.70" y2="372.61" stroke="#000" stroke-width="0.6"/>
<line x1="142.40" y1="372.02" x2="142.40" y2="373.20" stroke="#000" stroke-width="0.6"/>
<line x1="141.20" y1="372.02" x2="143.60" y2="372.02" stroke="#000" stroke-width="0.6"/>
<line x1="141.20" y1="373.20" x2="143.60" y2="373.20" stroke="#000" stroke-width="0.6"/>
<line x1="146.20" y1="372.61" x2="146.20" y2="373.79" stroke="#000" stroke-width="0.6"/>
<line x1="145.00" y1="372.61" x2="147.40" y2="372.61" stroke="#000" stroke-width="0.6"/>
<line x1="145.00" y1="373.79" x2="147.40" y2="373.79" stroke="#000" stroke-width="0.6"/>
<line x1="153.80" y1="373.20" x2="153.80" y2="374.38" stroke="#000" stroke-width="0.6"/>
<line x1="152.60" y1="373.20" x2="155.00" y2="373.20" stroke="#000" stroke-width="0.6"/>
<line x1="152.60" y1="374.38" x2="155.00" y2="374.38" stroke="#000" stroke-width="0.6"/>
<line x1="169.00" y1="373.20" x2="169.00" y2="374.38" stroke="#000" stroke-width="0.6"/>
<line x1="167.80" y1="373.20" x2="170.20" y2="373.20" stroke="#000" stroke-width="0.6"/>
<line x1="167.80" y1="374.38" x2="170.20" y2="374.38" stroke="#000" stroke-width="0.6"/>
<line x1="199.40" y1="372.31" x2="199.40" y2="374.09" stroke="#000" stroke-width="0.6"/>
<line x1="198.20" y1="372.31" x2="200.60" y2="372.31" stroke="#000" stroke-width="0.6"/>
<line x1="198.20" y1="374.09" x2="200.60" y2="374.09" stroke="#000" stroke-width="0.6"/>
<circle cx="140.50" cy="372.02" r="1.30" fill="#000"/>
<circle cx="142.40" cy="372.61" r="1.30" fill="#000"/>
<circle cx="146.20" cy="373.20" r="1.30" fill="#000"/>
<circle cx="153.80" cy="373.79" r="1.30" fill="#000"/>
<circle cx="169.00" cy="373.79" r="1.30" fill="#000"/>
<circle cx="199.40" cy="373.20" r="1.30" fill="#000"/>
<path d="M140.50,363.14 L142.40,351.89 L146.20,334.72 L153.80,321.10 L169.00,312.82 L199.40,314.00" fill="none" stroke="#000" stroke-width="0.8"/>
<line x1="140.50" y1="361.36" x2="140.50" y2="364.91" stroke="#000" stroke-width="0.6"/>
<line x1="139.30" y1="361.36" x2="141.70" y2="361.36" stroke="#000" stroke-width="0.6"/>
<line x1="139.30" y1="364.91" x2="141.70" y2="364.91" stroke="#000" stroke-width="0.6"/>
<line x1="142.40" y1="348.93" x2="142.40" y2="354.85" stroke="#000" stroke-width="0.6"/>
<line x1="141.20" y1="348.93" x2="143.60" y2="348.93" stroke="#000" stroke-width="0.6"/>
<line x1="141.20" y1="354.85" x2="143.60" y2="354.85" stroke="#000" stroke-width="0.6"/>
<line x1="146.20" y1="331.17" x2="146.20" y2="338.27" stroke="#000" stroke-width="0.6"/>
<line x1="145.00" y1="331.17" x2="147.40" y2="331.17" stroke="#000" stroke-width="0.6"/>
<line x1="145.00" y1="338.27" x2="147.40" y2="338.27" stroke="#000" stroke-width="0.6"/>
<line x1="153.80" y1="316.37" x2="153.80" y2="325.84" stroke="#000" stroke-width="0.6"/>
<line x1="152.60" y1="316.37" x2="155.00" y2="316.37" stroke="#000" stroke-width="0.6"/>
<line x1="152.60" y1="325.84" x2="155.00" y2="325.84" stroke="#000" stroke-width="0.6"/>
<line x1="169.00" y1="310.45" x2="169.00" y2="315.18" stroke="#000" stroke-width="0.6"/>
<line x1="167.80" y1="310.45" x2="170.20" y2="310.45" stroke="#000" stroke-width="0.6"/>
<line x1="167.80" y1="315.18" x2="170.20" y2="315.18" stroke="#000" stroke-width="0.6"/>
<path d="M140.50,361.71 L141.80,364.18 L139.20,364.18Z" fill="#000"/>
<path d="M142.40,350.46 L143.70,352.93 L141.10,352.93Z" fill="#000"/>
<path d="M146.20,333.29 L147.50,335.76 L144.90,335.76Z" fill="#000"/>
<path d="M153.80,319.67 L155.10,322.14 L152.50,322.14Z" fill="#000"/>
<path d="M169.00,311.39 L170.30,313.86 L167.70,313.86Z" fill="#000"/>
<path d="M199.40,312.57 L200.70,315.04 L198.10,315.04Z" fill="#000"/>
<path d="M140.50,372.61 L142.40,373.20 L146.20,374.38 L153.80,376.16 L169.00,374.98 L199.40,376.16" fill="none" stroke="#000" stroke-width="0.8"/>
<line x1="140.50" y1="372.02" x2="140.50" y2="373.20" stroke="#000" stroke-width="0.6"/>
<line x1="139.30" y1="372.02" x2="141.70" y2="372.02" stroke="#000" stroke-width="0.6"/>
<line x1="139.30" y1="373.20" x2="141.70" y2="373.20" stroke="#000" stroke-width="0.6"/>
<line x1="142.40" y1="372.61" x2="142.40" y2="373.79" stroke="#000" stroke-width="0.6"/>
<line x1="141.20" y1="372.61" x2="143.60" y2="372.61" stroke="#000" stroke-width="0.6"/>
<line x1="141.20" y1="373.79" x2="143.60" y2="373.79" stroke="#000" stroke-width="0.6"/>
<line x1="146.20" y1="373.50" x2="146.20" y2="375.27" stroke="#000" stroke-width="0.6"/>
<line x1="145.00" y1="373.50" x2="147.40" y2="373.50" stroke="#000" stroke-width="0.6"/>
<line x1="145.00" y1="375.27" x2="147.40" y2="375.27" stroke="#000" stroke-width="0.6"/>
<line x1="153.80" y1="374.98" x2="153.80" y2="377.34" stroke="#000" stroke-width="0.6"/>
<line x1="152.60" y1="374.98" x2="155.00" y2="374.98" stroke="#000" stroke-width="0.6"/>
<line x1="152.60" y1="377.34" x2="155.00" y2="377.34" stroke="#000" stroke-width="0.6"/>
<line x1="169.00" y1="374.09" x2="169.00" y2="375.86" stroke="#000" stroke-width="0.6"/>
<line x1="167.80" y1="374.09" x2="170.20" y2="374.09" stroke="#000" stroke-width="0.6"/>
<line x1="167.80" y1="375.86" x2="170.20" y2="375.86" stroke="#000" stroke-width="0.6"/>
<line x1="199.40" y1="374.38" x2="199.40" y2="377.94" stroke="#000" stroke-width="0.6"/>
<line x1="198.20" y1="374.38" x2="200.60" y2="374.38" stroke="#000" stroke-width="0.6"/>
<line x1="198.20" y1="377.94" x2="200.60" y2="377.94" stroke="#000" stroke-width="0.6"/>
<circle cx="140.50" cy="372.61" r="1.40" fill="#fff" stroke="#000" stroke-width="0.7"/>
<line x1="139.10" y1="372.61" x2="141.90" y2="372.61" stroke="#000" stroke-width="0.5"/>
<circle cx="142.40" cy="373.20" r="1.40" fill="#fff" stroke="#000" stroke-width="0.7"/>
<line x1="141.00" y1="373.20" x2="143.80" y2="373.20" stroke="#000" stroke-width="0.5"/>
<circle cx="146.20" cy="374.38" r="1.40" fill="#fff" stroke="#000" stroke-width="0.7"/>
<line x1="144.80" y1="374.38" x2="147.60" y2="374.38" stroke="#000" stroke-width="0.5"/>
<circle cx="153.80" cy="376.16" r="1.40" fill="#fff" stroke="#000" stroke-width="0.7"/>
<line x1="152.40" y1="376.16" x2="155.20" y2="376.16" stroke="#000" stroke-width="0.5"/>
<circle cx="169.00" cy="374.98" r="1.40" fill="#fff" stroke="#000" stroke-width="0.7"/>
<line x1="167.60" y1="374.98" x2="170.40" y2="374.98" stroke="#000" stroke-width="0.5"/>
<circle cx="199.40" cy="376.16" r="1.40" fill="#fff" stroke="#000" stroke-width="0.7"/>
<line x1="198.00" y1="376.16" x2="200.80" y2="376.16" stroke="#000" stroke-width="0.5"/>
<line x1="205.00" y1="301.80" x2="209.90" y2="301.80" stroke="#000" stroke-width="0.9"/>
<circle cx="207.40" cy="301.80" r="1.40" fill="#000"/>
<text x="212.90" y="303.30" font-size="4.4" stroke="#222" stroke-width="0.15" font-weight="bold" fill="#222" >sh<tspan font-style="italic">PRF1</tspan>+GFP</text>
<line x1="205.00" y1="307.00" x2="209.90" y2="307.00" stroke="#000" stroke-width="0.9"/>
<path d="M207.40,305.46 L208.80,308.12 L206.00,308.12Z" fill="#000"/>
<text x="212.90" y="308.50" font-size="4.4" stroke="#222" stroke-width="0.15" font-weight="bold" fill="#222" >sh<tspan font-style="italic">PRF1</tspan>+WT</text>
<line x1="205.00" y1="312.20" x2="209.90" y2="312.20" stroke="#000" stroke-width="0.9"/>
<circle cx="207.40" cy="312.20" r="1.40" fill="#fff" stroke="#000" stroke-width="0.7"/>
<line x1="206.00" y1="312.20" x2="208.80" y2="312.20" stroke="#000" stroke-width="0.5"/>
<text x="212.90" y="313.70" font-size="4.4" stroke="#222" stroke-width="0.15" font-weight="bold" fill="#222" >sh<tspan font-style="italic">PRF1</tspan>+K285del</text>
<text x="259.50" y="12.30" font-size="10.8" font-weight="bold" >C</text>
<text x="270.60" y="12.50" font-size="8.1" font-weight="bold" textLength="80.6" lengthAdjust="spacingAndGlyphs" >D49N and D49NT51D</text>
<text x="261.80" y="27.80" font-size="9.0" font-weight="bold" >i</text>
<text x="367.60" y="71.40" font-size="9.0" font-weight="bold" >iii</text>
<text x="261.60" y="127.40" font-size="9.0" font-weight="bold" >ii</text>
<text x="272.20" y="222.00" font-size="9.4" font-weight="bold" >iv</text>
<text x="272.00" y="232.20" font-size="9.8" textLength="134.8" lengthAdjust="spacingAndGlyphs" >Gain of glycosylation mutations</text>
<text transform="translate(287.90,58.40) rotate(-90)" font-size="4.35" fill="#555" textLength="25.1" lengthAdjust="spacingAndGlyphs" >shPRF1+WT</text>
<text transform="translate(300.90,58.40) rotate(-90)" font-size="4.35" fill="#555" textLength="26.6" lengthAdjust="spacingAndGlyphs" >shPRF1+GFP</text>
<text transform="translate(314.10,58.40) rotate(-90)" font-size="4.35" fill="#555" textLength="29.200000000000003" lengthAdjust="spacingAndGlyphs" >shPRF1+D49N</text>
<text transform="translate(327.10,58.40) rotate(-90)" font-size="4.35" fill="#555" textLength="40.0" lengthAdjust="spacingAndGlyphs" >shPRF1+D49NT51D</text>
<text transform="translate(340.50,58.40) rotate(-90)" font-size="4.35" fill="#555" textLength="29.200000000000003" lengthAdjust="spacingAndGlyphs" >shPRF1+D49S</text>
<text x="267.90" y="56.80" font-size="3.8" fill="#333" textLength="3.7" lengthAdjust="spacingAndGlyphs" >kDa</text>
<rect x="278.20" y="62.70" width="70.10" height="30.80" fill="#e4e4e4"/>
<rect x="278.20" y="96.40" width="70.10" height="8.50" fill="#e8e8e8"/>
<text x="273.20" y="65.50" font-size="4.0" text-anchor="end" fill="#333" >80</text>
<rect x="274.20" y="63.55" width="3.20" height="1.20" fill="#000"/>
<text x="273.20" y="74.60" font-size="4.0" text-anchor="end" fill="#333" >70</text>
<rect x="274.20" y="72.65" width="3.20" height="1.20" fill="#000"/>
<text x="273.20" y="87.30" font-size="4.0" text-anchor="end" fill="#333" >50</text>
<rect x="274.20" y="85.35" width="3.20" height="1.20" fill="#000"/>
<text transform="translate(265.40,88.30) rotate(-90)" font-size="4.0" fill="#333" textLength="23" lengthAdjust="spacingAndGlyphs" >PERFORIN</text>
<text transform="translate(265.40,107.20) rotate(-90)" font-size="4.0" fill="#333" textLength="12.3" lengthAdjust="spacingAndGlyphs" >ACTIN</text>
<rect x="279.50" y="76.80" width="11.00" height="3.80" rx="2.09" ry="1.52" fill="#111" opacity="0.95" filter="url(#b6)"/>
<rect x="281.10" y="73.90" width="9.00" height="1.40" rx="0.77" ry="0.56" fill="#555" opacity="0.55" filter="url(#b6)"/>
<rect x="307.80" y="72.40" width="10.40" height="2.80" rx="1.54" ry="1.12" fill="#2a2a2a" opacity="0.9" filter="url(#b6)"/>
<rect x="321.00" y="73.90" width="10.40" height="2.20" rx="1.21" ry="0.88" fill="#3a3a3a" opacity="0.8" filter="url(#b6)"/>
<rect x="321.20" y="77.20" width="10.00" height="1.20" rx="0.66" ry="0.48" fill="#999" opacity="0.3" filter="url(#b6)"/>
<rect x="335.20" y="74.90" width="10.00" height="2.20" rx="1.21" ry="0.88" fill="#3a3a3a" opacity="0.8" filter="url(#b6)"/>
<rect x="335.45" y="77.80" width="9.50" height="1.20" rx="0.66" ry="0.48" fill="#999" opacity="0.3" filter="url(#b6)"/>
<rect x="279.55" y="99.80" width="11.30" height="2.80" rx="1.54" ry="1.12" fill="#0a0a0a" opacity="0.95" filter="url(#b6)"/>
<rect x="292.95" y="99.80" width="11.30" height="2.80" rx="1.54" ry="1.12" fill="#0a0a0a" opacity="0.95" filter="url(#b6)"/>
<rect x="308.05" y="99.80" width="11.30" height="2.80" rx="1.54" ry="1.12" fill="#0a0a0a" opacity="0.95" filter="url(#b6)"/>
<rect x="321.65" y="99.80" width="11.30" height="2.80" rx="1.54" ry="1.12" fill="#0a0a0a" opacity="0.95" filter="url(#b6)"/>
<rect x="335.65" y="99.80" width="11.30" height="2.80" rx="1.54" ry="1.12" fill="#0a0a0a" opacity="0.95" filter="url(#b6)"/>
<rect x="305.00" y="62.70" width="1.80" height="42.20" fill="#000"/>
<text x="313.50" y="110.60" font-size="4.3" text-anchor="middle" fill="#333" >reducing</text>
<text transform="translate(285.00,157.70) rotate(-90)" font-size="4.35" fill="#555" textLength="25.5" lengthAdjust="spacingAndGlyphs" >shPRF1+WT</text>
<text transform="translate(297.60,157.70) rotate(-90)" font-size="4.35" fill="#555" textLength="27.700000000000017" lengthAdjust="spacingAndGlyphs" >shPRF1+GFP</text>
<text transform="translate(310.90,157.70) rotate(-90)" font-size="4.35" fill="#555" textLength="29.5" lengthAdjust="spacingAndGlyphs" >shPRF1+D49N</text>
<text transform="translate(324.30,157.70) rotate(-90)" font-size="4.35" fill="#555" textLength="40.7" lengthAdjust="spacingAndGlyphs" >shPRF1+D49NT51D</text>
<text transform="translate(337.40,157.70) rotate(-90)" font-size="4.35" fill="#555" textLength="29.5" lengthAdjust="spacingAndGlyphs" >shPRF1+D49S</text>
<text x="264.30" y="154.20" font-size="4.0" fill="#333" >kDa</text>
<rect x="275.70" y="161.10" width="68.20" height="30.30" fill="#e6e6e6"/>
<rect x="275.70" y="195.20" width="68.20" height="8.30" fill="#ebebeb"/>
<text x="269.30" y="164.10" font-size="4.0" text-anchor="end" fill="#333" >80</text>
<rect x="270.00" y="162.15" width="3.50" height="1.20" fill="#000"/>
<text x="269.30" y="172.70" font-size="4.0" text-anchor="end" fill="#333" >70</text>
<rect x="270.00" y="170.75" width="3.50" height="1.20" fill="#000"/>
<text x="269.30" y="184.90" font-size="4.0" text-anchor="end" fill="#333" >50</text>
<rect x="270.00" y="182.95" width="3.50" height="1.20" fill="#000"/>
<rect x="276.70" y="176.30" width="11.00" height="1.80" rx="0.99" ry="0.72" fill="#333" opacity="0.7" filter="url(#b6)"/>
<rect x="276.40" y="179.10" width="11.60" height="3.60" rx="1.98" ry="1.44" fill="#000" opacity="1.0" filter="url(#b6)"/>
<rect x="290.95" y="180.60" width="9.50" height="1.60" rx="0.88" ry="0.64" fill="#999" opacity="0.35" filter="url(#b6)"/>
<rect x="304.70" y="172.80" width="10.60" height="3.00" rx="1.65" ry="1.20" fill="#2a2a2a" opacity="0.9" filter="url(#b6)"/>
<rect x="305.00" y="180.10" width="10.00" height="1.40" rx="0.77" ry="0.56" fill="#888" opacity="0.4" filter="url(#b6)"/>
<rect x="318.00" y="175.20" width="10.40" height="2.60" rx="1.43" ry="1.04" fill="#333" opacity="0.8" filter="url(#b6)"/>
<rect x="318.00" y="179.70" width="10.40" height="2.20" rx="1.21" ry="0.88" fill="#222" opacity="0.8" filter="url(#b6)"/>
<rect x="332.00" y="175.40" width="10.40" height="2.20" rx="1.21" ry="0.88" fill="#555" opacity="0.7" filter="url(#b6)"/>
<rect x="332.00" y="179.90" width="10.40" height="1.80" rx="0.99" ry="0.72" fill="#888" opacity="0.45" filter="url(#b6)"/>
<rect x="276.25" y="197.70" width="11.50" height="3.00" rx="1.65" ry="1.20" fill="#050505" opacity="1.0" filter="url(#b6)"/>
<rect x="289.85" y="197.70" width="11.50" height="3.00" rx="1.65" ry="1.20" fill="#050505" opacity="1.0" filter="url(#b6)"/>
<rect x="304.15" y="197.70" width="11.50" height="3.00" rx="1.65" ry="1.20" fill="#050505" opacity="1.0" filter="url(#b6)"/>
<rect x="317.45" y="197.70" width="11.50" height="3.00" rx="1.65" ry="1.20" fill="#050505" opacity="1.0" filter="url(#b6)"/>
<rect x="331.45" y="197.70" width="11.50" height="3.00" rx="1.65" ry="1.20" fill="#050505" opacity="1.0" filter="url(#b6)"/>
<rect x="301.80" y="161.40" width="1.80" height="42.10" fill="#000"/>
<text x="310.00" y="209.70" font-size="4.25" text-anchor="middle" fill="#333" >non-reducing</text>
<line x1="381.40" y1="82.40" x2="381.40" y2="175.50" stroke="#000" stroke-width="0.8"/>
<line x1="381.40" y1="162.20" x2="457.60" y2="162.20" stroke="#000" stroke-width="0.8"/>
<line x1="379.60" y1="175.50" x2="381.40" y2="175.50" stroke="#000" stroke-width="0.8"/>
<text x="378.80" y="177.00" font-size="4.4" stroke="#222" stroke-width="0.22" font-weight="bold" text-anchor="end" fill="#222" >-20</text>
<line x1="379.60" y1="162.20" x2="381.40" y2="162.20" stroke="#000" stroke-width="0.8"/>
<text x="378.80" y="163.70" font-size="4.4" stroke="#222" stroke-width="0.22" font-weight="bold" text-anchor="end" fill="#222" >0</text>
<line x1="379.60" y1="148.90" x2="381.40" y2="148.90" stroke="#000" stroke-width="0.8"/>
<text x="378.80" y="150.40" font-size="4.4" stroke="#222" stroke-width="0.22" font-weight="bold" text-anchor="end" fill="#222" >20</text>
<line x1="379.60" y1="135.60" x2="381.40" y2="135.60" stroke="#000" stroke-width="0.8"/>
<text x="378.80" y="137.10" font-size="4.4" stroke="#222" stroke-width="0.22" font-weight="bold" text-anchor="end" fill="#222" >40</text>
<line x1="379.60" y1="122.30" x2="381.40" y2="122.30" stroke="#000" stroke-width="0.8"/>
<text x="378.80" y="123.80" font-size="4.4" stroke="#222" stroke-width="0.22" font-weight="bold" text-anchor="end" fill="#222" >60</text>
<line x1="379.60" y1="109.00" x2="381.40" y2="109.00" stroke="#000" stroke-width="0.8"/>
<text x="378.80" y="110.50" font-size="4.4" stroke="#222" stroke-width="0.22" font-weight="bold" text-anchor="end" fill="#222" >80</text>
<line x1="379.60" y1="95.70" x2="381.40" y2="95.70" stroke="#000" stroke-width="0.8"/>
<text x="378.80" y="97.20" font-size="4.4" stroke="#222" stroke-width="0.22" font-weight="bold" text-anchor="end" fill="#222" >100</text>
<line x1="379.60" y1="82.40" x2="381.40" y2="82.40" stroke="#000" stroke-width="0.8"/>
<text x="378.80" y="83.90" font-size="4.4" stroke="#222" stroke-width="0.22" font-weight="bold" text-anchor="end" fill="#222" >120</text>
<line x1="395.50" y1="162.20" x2="395.50" y2="163.70" stroke="#000" stroke-width="0.8"/>
<text x="395.50" y="169.60" font-size="4.3" stroke="#222" stroke-width="0.15" font-weight="bold" text-anchor="middle" fill="#222" >2</text>
<line x1="409.30" y1="162.20" x2="409.30" y2="163.70" stroke="#000" stroke-width="0.8"/>
<text x="409.30" y="169.60" font-size="4.3" stroke="#222" stroke-width="0.15" font-weight="bold" text-anchor="middle" fill="#222" >4</text>
<line x1="423.10" y1="162.20" x2="423.10" y2="163.70" stroke="#000" stroke-width="0.8"/>
<text x="423.10" y="169.60" font-size="4.3" stroke="#222" stroke-width="0.15" font-weight="bold" text-anchor="middle" fill="#222" >6</text>
<line x1="436.90" y1="162.20" x2="436.90" y2="163.70" stroke="#000" stroke-width="0.8"/>
<text x="436.90" y="169.60" font-size="4.3" stroke="#222" stroke-width="0.15" font-weight="bold" text-anchor="middle" fill="#222" >8</text>
<line x1="450.70" y1="162.20" x2="450.70" y2="163.70" stroke="#000" stroke-width="0.8"/>
<text x="450.70" y="169.60" font-size="4.3" stroke="#222" stroke-width="0.15" font-weight="bold" text-anchor="middle" fill="#222" >10</text>
<text x="419.50" y="178.30" font-size="4.8" stroke="#222" stroke-width="0.15" font-weight="bold" text-anchor="middle" fill="#222" >E:T ratio</text>
<text transform="translate(366.60,155.60) rotate(-90)" font-size="4.4" stroke="#222" stroke-width="0.15" font-weight="bold" fill="#222" textLength="69.8" lengthAdjust="spacingAndGlyphs" >%51Cr release, relative to WT and GFP</text>
<path d="M383.86,160.87 L386.01,161.53 L390.32,162.20 L398.95,162.20 L416.20,162.20 L450.70,162.20" fill="none" stroke="#000" stroke-width="0.8"/>
<line x1="383.86" y1="160.20" x2="383.86" y2="161.53" stroke="#000" stroke-width="0.6"/>
<line x1="382.56" y1="160.20" x2="385.16" y2="160.20" stroke="#000" stroke-width="0.6"/>
<line x1="382.56" y1="161.53" x2="385.16" y2="161.53" stroke="#000" stroke-width="0.6"/>
<line x1="386.01" y1="160.87" x2="386.01" y2="162.20" stroke="#000" stroke-width="0.6"/>
<line x1="384.71" y1="160.87" x2="387.31" y2="160.87" stroke="#000" stroke-width="0.6"/>
<line x1="384.71" y1="162.20" x2="387.31" y2="162.20" stroke="#000" stroke-width="0.6"/>
<line x1="390.32" y1="161.53" x2="390.32" y2="162.86" stroke="#000" stroke-width="0.6"/>
<line x1="389.02" y1="161.53" x2="391.62" y2="161.53" stroke="#000" stroke-width="0.6"/>
<line x1="389.02" y1="162.86" x2="391.62" y2="162.86" stroke="#000" stroke-width="0.6"/>
<line x1="398.95" y1="161.53" x2="398.95" y2="162.86" stroke="#000" stroke-width="0.6"/>
<line x1="397.65" y1="161.53" x2="400.25" y2="161.53" stroke="#000" stroke-width="0.6"/>
<line x1="397.65" y1="162.86" x2="400.25" y2="162.86" stroke="#000" stroke-width="0.6"/>
<line x1="416.20" y1="161.53" x2="416.20" y2="162.86" stroke="#000" stroke-width="0.6"/>
<line x1="414.90" y1="161.53" x2="417.50" y2="161.53" stroke="#000" stroke-width="0.6"/>
<line x1="414.90" y1="162.86" x2="417.50" y2="162.86" stroke="#000" stroke-width="0.6"/>
<line x1="450.70" y1="161.53" x2="450.70" y2="162.86" stroke="#000" stroke-width="0.6"/>
<line x1="449.40" y1="161.53" x2="452.00" y2="161.53" stroke="#000" stroke-width="0.6"/>
<line x1="449.40" y1="162.86" x2="452.00" y2="162.86" stroke="#000" stroke-width="0.6"/>
<circle cx="383.86" cy="160.87" r="1.40" fill="#000"/>
<circle cx="386.01" cy="161.53" r="1.40" fill="#000"/>
<circle cx="390.32" cy="162.20" r="1.40" fill="#000"/>
<circle cx="398.95" cy="162.20" r="1.40" fill="#000"/>
<circle cx="416.20" cy="162.20" r="1.40" fill="#000"/>
<circle cx="450.70" cy="162.20" r="1.40" fill="#000"/>
<path d="M383.86,150.89 L386.01,140.25 L390.32,124.29 L398.95,107.67 L416.20,97.69 L450.70,95.70" fill="none" stroke="#000" stroke-width="0.8"/>
<line x1="383.86" y1="148.90" x2="383.86" y2="152.89" stroke="#000" stroke-width="0.6"/>
<line x1="382.56" y1="148.90" x2="385.16" y2="148.90" stroke="#000" stroke-width="0.6"/>
<line x1="382.56" y1="152.89" x2="385.16" y2="152.89" stroke="#000" stroke-width="0.6"/>
<line x1="386.01" y1="136.93" x2="386.01" y2="143.58" stroke="#000" stroke-width="0.6"/>
<line x1="384.71" y1="136.93" x2="387.31" y2="136.93" stroke="#000" stroke-width="0.6"/>
<line x1="384.71" y1="143.58" x2="387.31" y2="143.58" stroke="#000" stroke-width="0.6"/>
<line x1="390.32" y1="120.30" x2="390.32" y2="128.28" stroke="#000" stroke-width="0.6"/>
<line x1="389.02" y1="120.30" x2="391.62" y2="120.30" stroke="#000" stroke-width="0.6"/>
<line x1="389.02" y1="128.28" x2="391.62" y2="128.28" stroke="#000" stroke-width="0.6"/>
<line x1="398.95" y1="104.34" x2="398.95" y2="110.99" stroke="#000" stroke-width="0.6"/>
<line x1="397.65" y1="104.34" x2="400.25" y2="104.34" stroke="#000" stroke-width="0.6"/>
<line x1="397.65" y1="110.99" x2="400.25" y2="110.99" stroke="#000" stroke-width="0.6"/>
<line x1="416.20" y1="94.37" x2="416.20" y2="101.02" stroke="#000" stroke-width="0.6"/>
<line x1="414.90" y1="94.37" x2="417.50" y2="94.37" stroke="#000" stroke-width="0.6"/>
<line x1="414.90" y1="101.02" x2="417.50" y2="101.02" stroke="#000" stroke-width="0.6"/>
<path d="M383.86,149.35 L385.26,152.01 L382.46,152.01Z" fill="#000"/>
<path d="M386.01,138.72 L387.41,141.38 L384.61,141.38Z" fill="#000"/>
<path d="M390.32,122.75 L391.72,125.41 L388.93,125.41Z" fill="#000"/>
<path d="M398.95,106.13 L400.35,108.79 L397.55,108.79Z" fill="#000"/>
<path d="M416.20,96.15 L417.60,98.81 L414.80,98.81Z" fill="#000"/>
<path d="M450.70,94.16 L452.10,96.82 L449.30,96.82Z" fill="#000"/>
<path d="M383.86,163.53 L386.01,164.19 L390.32,164.86 L398.95,164.86 L416.20,164.86 L450.70,166.85" fill="none" stroke="#000" stroke-width="0.8"/>
<line x1="383.86" y1="162.86" x2="383.86" y2="164.19" stroke="#000" stroke-width="0.6"/>
<line x1="382.56" y1="162.86" x2="385.16" y2="162.86" stroke="#000" stroke-width="0.6"/>
<line x1="382.56" y1="164.19" x2="385.16" y2="164.19" stroke="#000" stroke-width="0.6"/>
<line x1="386.01" y1="163.53" x2="386.01" y2="164.86" stroke="#000" stroke-width="0.6"/>
<line x1="384.71" y1="163.53" x2="387.31" y2="163.53" stroke="#000" stroke-width="0.6"/>
<line x1="384.71" y1="164.86" x2="387.31" y2="164.86" stroke="#000" stroke-width="0.6"/>
<line x1="390.32" y1="163.86" x2="390.32" y2="165.86" stroke="#000" stroke-width="0.6"/>
<line x1="389.02" y1="163.86" x2="391.62" y2="163.86" stroke="#000" stroke-width="0.6"/>
<line x1="389.02" y1="165.86" x2="391.62" y2="165.86" stroke="#000" stroke-width="0.6"/>
<line x1="398.95" y1="163.53" x2="398.95" y2="166.19" stroke="#000" stroke-width="0.6"/>
<line x1="397.65" y1="163.53" x2="400.25" y2="163.53" stroke="#000" stroke-width="0.6"/>
<line x1="397.65" y1="166.19" x2="400.25" y2="166.19" stroke="#000" stroke-width="0.6"/>
<line x1="416.20" y1="163.86" x2="416.20" y2="165.86" stroke="#000" stroke-width="0.6"/>
<line x1="414.90" y1="163.86" x2="417.50" y2="163.86" stroke="#000" stroke-width="0.6"/>
<line x1="414.90" y1="165.86" x2="417.50" y2="165.86" stroke="#000" stroke-width="0.6"/>
<line x1="450.70" y1="165.52" x2="450.70" y2="168.19" stroke="#000" stroke-width="0.6"/>
<line x1="449.40" y1="165.52" x2="452.00" y2="165.52" stroke="#000" stroke-width="0.6"/>
<line x1="449.40" y1="168.19" x2="452.00" y2="168.19" stroke="#000" stroke-width="0.6"/>
<circle cx="383.86" cy="163.53" r="1.50" fill="#fff" stroke="#000" stroke-width="0.7"/>
<line x1="382.36" y1="163.53" x2="385.36" y2="163.53" stroke="#000" stroke-width="0.5"/>
<circle cx="386.01" cy="164.19" r="1.50" fill="#fff" stroke="#000" stroke-width="0.7"/>
<line x1="384.51" y1="164.19" x2="387.51" y2="164.19" stroke="#000" stroke-width="0.5"/>
<circle cx="390.32" cy="164.86" r="1.50" fill="#fff" stroke="#000" stroke-width="0.7"/>
<line x1="388.82" y1="164.86" x2="391.82" y2="164.86" stroke="#000" stroke-width="0.5"/>
<circle cx="398.95" cy="164.86" r="1.50" fill="#fff" stroke="#000" stroke-width="0.7"/>
<line x1="397.45" y1="164.86" x2="400.45" y2="164.86" stroke="#000" stroke-width="0.5"/>
<circle cx="416.20" cy="164.86" r="1.50" fill="#fff" stroke="#000" stroke-width="0.7"/>
<line x1="414.70" y1="164.86" x2="417.70" y2="164.86" stroke="#000" stroke-width="0.5"/>
<circle cx="450.70" cy="166.85" r="1.50" fill="#fff" stroke="#000" stroke-width="0.7"/>
<line x1="449.20" y1="166.85" x2="452.20" y2="166.85" stroke="#000" stroke-width="0.5"/>
<path d="M383.86,160.87 L386.01,158.88 L390.32,158.88 L398.95,155.55 L416.20,153.69 L450.70,145.77" fill="none" stroke="#000" stroke-width="0.8"/>
<line x1="383.86" y1="160.20" x2="383.86" y2="161.53" stroke="#000" stroke-width="0.6"/>
<line x1="382.56" y1="160.20" x2="385.16" y2="160.20" stroke="#000" stroke-width="0.6"/>
<line x1="382.56" y1="161.53" x2="385.16" y2="161.53" stroke="#000" stroke-width="0.6"/>
<line x1="386.01" y1="157.54" x2="386.01" y2="160.20" stroke="#000" stroke-width="0.6"/>
<line x1="384.71" y1="157.54" x2="387.31" y2="157.54" stroke="#000" stroke-width="0.6"/>
<line x1="384.71" y1="160.20" x2="387.31" y2="160.20" stroke="#000" stroke-width="0.6"/>
<line x1="390.32" y1="156.88" x2="390.32" y2="160.87" stroke="#000" stroke-width="0.6"/>
<line x1="389.02" y1="156.88" x2="391.62" y2="156.88" stroke="#000" stroke-width="0.6"/>
<line x1="389.02" y1="160.87" x2="391.62" y2="160.87" stroke="#000" stroke-width="0.6"/>
<line x1="398.95" y1="153.55" x2="398.95" y2="157.54" stroke="#000" stroke-width="0.6"/>
<line x1="397.65" y1="153.55" x2="400.25" y2="153.55" stroke="#000" stroke-width="0.6"/>
<line x1="397.65" y1="157.54" x2="400.25" y2="157.54" stroke="#000" stroke-width="0.6"/>
<line x1="416.20" y1="149.70" x2="416.20" y2="157.68" stroke="#000" stroke-width="0.6"/>
<line x1="414.90" y1="149.70" x2="417.50" y2="149.70" stroke="#000" stroke-width="0.6"/>
<line x1="414.90" y1="157.68" x2="417.50" y2="157.68" stroke="#000" stroke-width="0.6"/>
<line x1="450.70" y1="144.44" x2="450.70" y2="147.10" stroke="#000" stroke-width="0.6"/>
<line x1="449.40" y1="144.44" x2="452.00" y2="144.44" stroke="#000" stroke-width="0.6"/>
<line x1="449.40" y1="147.10" x2="452.00" y2="147.10" stroke="#000" stroke-width="0.6"/>
<line x1="382.46" y1="159.47" x2="385.26" y2="162.27" stroke="#000" stroke-width="0.7"/>
<line x1="382.46" y1="162.27" x2="385.26" y2="159.47" stroke="#000" stroke-width="0.7"/>
<line x1="382.46" y1="160.87" x2="385.26" y2="160.87" stroke="#000" stroke-width="0.7"/>
<line x1="384.61" y1="157.47" x2="387.41" y2="160.28" stroke="#000" stroke-width="0.7"/>
<line x1="384.61" y1="160.28" x2="387.41" y2="157.47" stroke="#000" stroke-width="0.7"/>
<line x1="384.61" y1="158.88" x2="387.41" y2="158.88" stroke="#000" stroke-width="0.7"/>
<line x1="388.93" y1="157.47" x2="391.72" y2="160.28" stroke="#000" stroke-width="0.7"/>
<line x1="388.93" y1="160.28" x2="391.72" y2="157.47" stroke="#000" stroke-width="0.7"/>
<line x1="388.93" y1="158.88" x2="391.72" y2="158.88" stroke="#000" stroke-width="0.7"/>
<line x1="397.55" y1="154.15" x2="400.35" y2="156.95" stroke="#000" stroke-width="0.7"/>
<line x1="397.55" y1="156.95" x2="400.35" y2="154.15" stroke="#000" stroke-width="0.7"/>
<line x1="397.55" y1="155.55" x2="400.35" y2="155.55" stroke="#000" stroke-width="0.7"/>
<line x1="414.80" y1="152.29" x2="417.60" y2="155.09" stroke="#000" stroke-width="0.7"/>
<line x1="414.80" y1="155.09" x2="417.60" y2="152.29" stroke="#000" stroke-width="0.7"/>
<line x1="414.80" y1="153.69" x2="417.60" y2="153.69" stroke="#000" stroke-width="0.7"/>
<line x1="449.30" y1="144.37" x2="452.10" y2="147.17" stroke="#000" stroke-width="0.7"/>
<line x1="449.30" y1="147.17" x2="452.10" y2="144.37" stroke="#000" stroke-width="0.7"/>
<line x1="449.30" y1="145.77" x2="452.10" y2="145.77" stroke="#000" stroke-width="0.7"/>
<path d="M383.86,160.20 L386.01,156.88 L390.32,153.55 L398.95,146.24 L416.20,136.26 L450.70,131.28" fill="none" stroke="#000" stroke-width="0.8"/>
<line x1="383.86" y1="158.88" x2="383.86" y2="161.53" stroke="#000" stroke-width="0.6"/>
<line x1="382.56" y1="158.88" x2="385.16" y2="158.88" stroke="#000" stroke-width="0.6"/>
<line x1="382.56" y1="161.53" x2="385.16" y2="161.53" stroke="#000" stroke-width="0.6"/>
<line x1="386.01" y1="155.55" x2="386.01" y2="158.21" stroke="#000" stroke-width="0.6"/>
<line x1="384.71" y1="155.55" x2="387.31" y2="155.55" stroke="#000" stroke-width="0.6"/>
<line x1="384.71" y1="158.21" x2="387.31" y2="158.21" stroke="#000" stroke-width="0.6"/>
<line x1="390.32" y1="151.56" x2="390.32" y2="155.55" stroke="#000" stroke-width="0.6"/>
<line x1="389.02" y1="151.56" x2="391.62" y2="151.56" stroke="#000" stroke-width="0.6"/>
<line x1="389.02" y1="155.55" x2="391.62" y2="155.55" stroke="#000" stroke-width="0.6"/>
<line x1="398.95" y1="144.24" x2="398.95" y2="148.23" stroke="#000" stroke-width="0.6"/>
<line x1="397.65" y1="144.24" x2="400.25" y2="144.24" stroke="#000" stroke-width="0.6"/>
<line x1="397.65" y1="148.23" x2="400.25" y2="148.23" stroke="#000" stroke-width="0.6"/>
<line x1="416.20" y1="133.60" x2="416.20" y2="138.92" stroke="#000" stroke-width="0.6"/>
<line x1="414.90" y1="133.60" x2="417.50" y2="133.60" stroke="#000" stroke-width="0.6"/>
<line x1="414.90" y1="138.92" x2="417.50" y2="138.92" stroke="#000" stroke-width="0.6"/>
<line x1="450.70" y1="129.28" x2="450.70" y2="133.27" stroke="#000" stroke-width="0.6"/>
<line x1="449.40" y1="129.28" x2="452.00" y2="129.28" stroke="#000" stroke-width="0.6"/>
<line x1="449.40" y1="133.27" x2="452.00" y2="133.27" stroke="#000" stroke-width="0.6"/>
<rect x="382.46" y="158.80" width="2.80" height="2.80" fill="#000"/>
<rect x="384.61" y="155.48" width="2.80" height="2.80" fill="#000"/>
<rect x="388.93" y="152.15" width="2.80" height="2.80" fill="#000"/>
<rect x="397.55" y="144.84" width="2.80" height="2.80" fill="#000"/>
<rect x="414.80" y="134.86" width="2.80" height="2.80" fill="#000"/>
<rect x="449.30" y="129.88" width="2.80" height="2.80" fill="#000"/>
<line x1="459.20" y1="82.30" x2="465.40" y2="82.30" stroke="#000" stroke-width="0.9"/>
<path d="M462.30,80.38 L464.06,82.30 L462.30,84.22 L460.54,82.30Z" fill="#000"/>
<text x="468.20" y="84.00" font-size="4.75" stroke="#111" stroke-width="0.18" font-weight="bold" fill="#111" >sh<tspan font-style="italic">PRF1</tspan>+GFP</text>
<line x1="459.20" y1="88.28" x2="465.40" y2="88.28" stroke="#000" stroke-width="0.9"/>
<path d="M462.30,86.52 L463.90,89.56 L460.70,89.56Z" fill="#000"/>
<text x="468.20" y="89.98" font-size="4.75" stroke="#111" stroke-width="0.18" font-weight="bold" fill="#111" >sh<tspan font-style="italic">PRF1</tspan>+WT</text>
<line x1="459.20" y1="94.26" x2="465.40" y2="94.26" stroke="#000" stroke-width="0.9"/>
<circle cx="462.30" cy="94.26" r="1.60" fill="#fff" stroke="#000" stroke-width="0.7"/>
<line x1="460.70" y1="94.26" x2="463.90" y2="94.26" stroke="#000" stroke-width="0.5"/>
<text x="468.20" y="95.96" font-size="4.75" stroke="#111" stroke-width="0.18" font-weight="bold" fill="#111" >sh<tspan font-style="italic">PRF1</tspan>+D49N</text>
<line x1="459.20" y1="100.24" x2="465.40" y2="100.24" stroke="#000" stroke-width="0.9"/>
<line x1="460.70" y1="98.64" x2="463.90" y2="101.84" stroke="#000" stroke-width="0.7"/>
<line x1="460.70" y1="101.84" x2="463.90" y2="98.64" stroke="#000" stroke-width="0.7"/>
<line x1="460.70" y1="100.24" x2="463.90" y2="100.24" stroke="#000" stroke-width="0.7"/>
<text x="468.20" y="101.94" font-size="4.75" stroke="#111" stroke-width="0.18" font-weight="bold" fill="#111" >sh<tspan font-style="italic">PRF1</tspan>+D49NT51D</text>
<line x1="459.20" y1="106.22" x2="465.40" y2="106.22" stroke="#000" stroke-width="0.9"/>
<circle cx="462.30" cy="106.22" r="1.60" fill="#000"/>
<text x="468.20" y="107.92" font-size="4.75" stroke="#111" stroke-width="0.18" font-weight="bold" fill="#111" >sh<tspan font-style="italic">PRF1</tspan>+D49S</text>
<text x="491.00" y="117.00" font-size="3.1" text-anchor="middle" fill="#333" >Equivalent protein</text>
<text x="491.00" y="121.20" font-size="3.1" text-anchor="middle" fill="#333" >expression</text>
<line x1="472.50" y1="118.40" x2="472.50" y2="175.10" stroke="#000" stroke-width="0.6"/>
<line x1="472.50" y1="167.00" x2="516.60" y2="167.00" stroke="#000" stroke-width="0.6"/>
<line x1="471.30" y1="175.10" x2="472.50" y2="175.10" stroke="#000" stroke-width="0.6"/>
<text x="470.60" y="176.10" font-size="2.6" text-anchor="end" fill="#333" >-20</text>
<line x1="471.30" y1="167.00" x2="472.50" y2="167.00" stroke="#000" stroke-width="0.6"/>
<text x="470.60" y="168.00" font-size="2.6" text-anchor="end" fill="#333" >0</text>
<line x1="471.30" y1="158.90" x2="472.50" y2="158.90" stroke="#000" stroke-width="0.6"/>
<text x="470.60" y="159.90" font-size="2.6" text-anchor="end" fill="#333" >20</text>
<line x1="471.30" y1="150.80" x2="472.50" y2="150.80" stroke="#000" stroke-width="0.6"/>
<text x="470.60" y="151.80" font-size="2.6" text-anchor="end" fill="#333" >40</text>
<line x1="471.30" y1="142.70" x2="472.50" y2="142.70" stroke="#000" stroke-width="0.6"/>
<text x="470.60" y="143.70" font-size="2.6" text-anchor="end" fill="#333" >60</text>
<line x1="471.30" y1="134.60" x2="472.50" y2="134.60" stroke="#000" stroke-width="0.6"/>
<text x="470.60" y="135.60" font-size="2.6" text-anchor="end" fill="#333" >80</text>
<line x1="471.30" y1="126.50" x2="472.50" y2="126.50" stroke="#000" stroke-width="0.6"/>
<text x="470.60" y="127.50" font-size="2.6" text-anchor="end" fill="#333" >100</text>
<line x1="471.30" y1="118.40" x2="472.50" y2="118.40" stroke="#000" stroke-width="0.6"/>
<text x="470.60" y="119.40" font-size="2.6" text-anchor="end" fill="#333" >120</text>
<line x1="480.56" y1="167.00" x2="480.56" y2="168.00" stroke="#000" stroke-width="0.6"/>
<text x="480.56" y="171.20" font-size="2.6" text-anchor="middle" fill="#333" >2</text>
<line x1="488.72" y1="167.00" x2="488.72" y2="168.00" stroke="#000" stroke-width="0.6"/>
<text x="488.72" y="171.20" font-size="2.6" text-anchor="middle" fill="#333" >4</text>
<line x1="496.88" y1="167.00" x2="496.88" y2="168.00" stroke="#000" stroke-width="0.6"/>
<text x="496.88" y="171.20" font-size="2.6" text-anchor="middle" fill="#333" >6</text>
<line x1="505.04" y1="167.00" x2="505.04" y2="168.00" stroke="#000" stroke-width="0.6"/>
<text x="505.04" y="171.20" font-size="2.6" text-anchor="middle" fill="#333" >8</text>
<line x1="513.20" y1="167.00" x2="513.20" y2="168.00" stroke="#000" stroke-width="0.6"/>
<text x="513.20" y="171.20" font-size="2.6" text-anchor="middle" fill="#333" >10</text>
<text x="493.60" y="176.30" font-size="2.8" text-anchor="middle" fill="#333" >E:T ratio</text>
<text transform="translate(465.60,169.40) rotate(-90)" font-size="2.6" fill="#444" textLength="48" lengthAdjust="spacingAndGlyphs" >%51Cr release, relative to WT and GFP</text>
<path d="M473.67,158.90 L474.95,153.63 L477.50,144.32 L482.60,136.22 L492.80,129.74 L513.20,126.50" fill="none" stroke="#000" stroke-width="0.6"/>
<line x1="473.67" y1="157.69" x2="473.67" y2="160.12" stroke="#000" stroke-width="0.6"/>
<line x1="472.67" y1="157.69" x2="474.67" y2="157.69" stroke="#000" stroke-width="0.6"/>
<line x1="472.67" y1="160.12" x2="474.67" y2="160.12" stroke="#000" stroke-width="0.6"/>
<line x1="474.95" y1="152.01" x2="474.95" y2="155.25" stroke="#000" stroke-width="0.6"/>
<line x1="473.95" y1="152.01" x2="475.95" y2="152.01" stroke="#000" stroke-width="0.6"/>
<line x1="473.95" y1="155.25" x2="475.95" y2="155.25" stroke="#000" stroke-width="0.6"/>
<line x1="477.50" y1="141.89" x2="477.50" y2="146.75" stroke="#000" stroke-width="0.6"/>
<line x1="476.50" y1="141.89" x2="478.50" y2="141.89" stroke="#000" stroke-width="0.6"/>
<line x1="476.50" y1="146.75" x2="478.50" y2="146.75" stroke="#000" stroke-width="0.6"/>
<line x1="482.60" y1="133.79" x2="482.60" y2="138.65" stroke="#000" stroke-width="0.6"/>
<line x1="481.60" y1="133.79" x2="483.60" y2="133.79" stroke="#000" stroke-width="0.6"/>
<line x1="481.60" y1="138.65" x2="483.60" y2="138.65" stroke="#000" stroke-width="0.6"/>
<line x1="492.80" y1="128.12" x2="492.80" y2="131.36" stroke="#000" stroke-width="0.6"/>
<line x1="491.80" y1="128.12" x2="493.80" y2="128.12" stroke="#000" stroke-width="0.6"/>
<line x1="491.80" y1="131.36" x2="493.80" y2="131.36" stroke="#000" stroke-width="0.6"/>
<circle cx="473.67" cy="158.90" r="1.00" fill="#000"/>
<circle cx="474.95" cy="153.63" r="1.00" fill="#000"/>
<circle cx="477.50" cy="144.32" r="1.00" fill="#000"/>
<circle cx="482.60" cy="136.22" r="1.00" fill="#000"/>
<circle cx="492.80" cy="129.74" r="1.00" fill="#000"/>
<circle cx="513.20" cy="126.50" r="1.00" fill="#000"/>
<path d="M473.67,161.33 L474.95,155.66 L477.50,147.56 L482.60,141.89 L492.80,135.41 L513.20,134.60" fill="none" stroke="#000" stroke-width="0.6"/>
<line x1="473.67" y1="160.12" x2="473.67" y2="162.54" stroke="#000" stroke-width="0.6"/>
<line x1="472.67" y1="160.12" x2="474.67" y2="160.12" stroke="#000" stroke-width="0.6"/>
<line x1="472.67" y1="162.54" x2="474.67" y2="162.54" stroke="#000" stroke-width="0.6"/>
<line x1="474.95" y1="154.04" x2="474.95" y2="157.28" stroke="#000" stroke-width="0.6"/>
<line x1="473.95" y1="154.04" x2="475.95" y2="154.04" stroke="#000" stroke-width="0.6"/>
<line x1="473.95" y1="157.28" x2="475.95" y2="157.28" stroke="#000" stroke-width="0.6"/>
<line x1="477.50" y1="145.53" x2="477.50" y2="149.59" stroke="#000" stroke-width="0.6"/>
<line x1="476.50" y1="145.53" x2="478.50" y2="145.53" stroke="#000" stroke-width="0.6"/>
<line x1="476.50" y1="149.59" x2="478.50" y2="149.59" stroke="#000" stroke-width="0.6"/>
<line x1="482.60" y1="139.46" x2="482.60" y2="144.32" stroke="#000" stroke-width="0.6"/>
<line x1="481.60" y1="139.46" x2="483.60" y2="139.46" stroke="#000" stroke-width="0.6"/>
<line x1="481.60" y1="144.32" x2="483.60" y2="144.32" stroke="#000" stroke-width="0.6"/>
<line x1="492.80" y1="131.76" x2="492.80" y2="139.06" stroke="#000" stroke-width="0.6"/>
<line x1="491.80" y1="131.76" x2="493.80" y2="131.76" stroke="#000" stroke-width="0.6"/>
<line x1="491.80" y1="139.06" x2="493.80" y2="139.06" stroke="#000" stroke-width="0.6"/>
<line x1="513.20" y1="130.55" x2="513.20" y2="138.65" stroke="#000" stroke-width="0.6"/>
<line x1="512.20" y1="130.55" x2="514.20" y2="130.55" stroke="#000" stroke-width="0.6"/>
<line x1="512.20" y1="138.65" x2="514.20" y2="138.65" stroke="#000" stroke-width="0.6"/>
<path d="M473.67,160.23 L474.67,162.13 L472.67,162.13Z" fill="#000"/>
<path d="M474.95,154.56 L475.95,156.46 L473.95,156.46Z" fill="#000"/>
<path d="M477.50,146.46 L478.50,148.36 L476.50,148.36Z" fill="#000"/>
<path d="M482.60,140.79 L483.60,142.69 L481.60,142.69Z" fill="#000"/>
<path d="M492.80,134.31 L493.80,136.21 L491.80,136.21Z" fill="#000"/>
<path d="M513.20,133.50 L514.20,135.40 L512.20,135.40Z" fill="#000"/>
<path d="M473.67,166.59 L474.95,165.78 L477.50,164.57 L482.60,162.54 L492.80,162.54 L513.20,165.38" fill="none" stroke="#000" stroke-width="0.6"/>
<circle cx="473.67" cy="166.59" r="1.20" fill="#fff" stroke="#000" stroke-width="0.7"/>
<line x1="472.47" y1="166.59" x2="474.87" y2="166.59" stroke="#000" stroke-width="0.5"/>
<circle cx="474.95" cy="165.78" r="1.20" fill="#fff" stroke="#000" stroke-width="0.7"/>
<line x1="473.75" y1="165.78" x2="476.15" y2="165.78" stroke="#000" stroke-width="0.5"/>
<circle cx="477.50" cy="164.57" r="1.20" fill="#fff" stroke="#000" stroke-width="0.7"/>
<line x1="476.30" y1="164.57" x2="478.70" y2="164.57" stroke="#000" stroke-width="0.5"/>
<circle cx="482.60" cy="162.54" r="1.20" fill="#fff" stroke="#000" stroke-width="0.7"/>
<line x1="481.40" y1="162.54" x2="483.80" y2="162.54" stroke="#000" stroke-width="0.5"/>
<circle cx="492.80" cy="162.54" r="1.20" fill="#fff" stroke="#000" stroke-width="0.7"/>
<line x1="491.60" y1="162.54" x2="494.00" y2="162.54" stroke="#000" stroke-width="0.5"/>
<circle cx="513.20" cy="165.38" r="1.20" fill="#fff" stroke="#000" stroke-width="0.7"/>
<line x1="512.00" y1="165.38" x2="514.40" y2="165.38" stroke="#000" stroke-width="0.5"/>
<path d="M473.67,167.00 L474.95,167.00 L477.50,167.00 L482.60,167.00 L492.80,167.00 L513.20,167.00" fill="none" stroke="#000" stroke-width="0.6"/>
<circle cx="473.67" cy="167.00" r="0.90" fill="#000"/>
<circle cx="474.95" cy="167.00" r="0.90" fill="#000"/>
<circle cx="477.50" cy="167.00" r="0.90" fill="#000"/>
<circle cx="482.60" cy="167.00" r="0.90" fill="#000"/>
<circle cx="492.80" cy="167.00" r="0.90" fill="#000"/>
<circle cx="513.20" cy="167.00" r="0.90" fill="#000"/>
<rect x="272.00" y="235.75" width="243.40" height="1.50" fill="#222"/>
<rect x="272.00" y="250.00" width="243.40" height="12.70" fill="#c2c2c2"/>
<rect x="272.00" y="274.50" width="243.40" height="11.30" fill="#c2c2c2"/>
<rect x="272.00" y="297.70" width="243.40" height="11.30" fill="#c2c2c2"/>
<rect x="272.00" y="321.00" width="243.40" height="11.60" fill="#c2c2c2"/>
<rect x="272.00" y="249.40" width="243.40" height="1.20" fill="#222"/>
<rect x="272.00" y="331.90" width="243.40" height="1.50" fill="#3a3a3a"/>
<rect x="299.05" y="236.50" width="0.90" height="13.50" fill="#555"/>
<rect x="376.55" y="236.50" width="0.90" height="13.50" fill="#555"/>
<rect x="440.95" y="236.50" width="0.90" height="13.50" fill="#555"/>
<text x="286.20" y="244.90" font-size="5.25" stroke="#111" stroke-width="0.12" font-weight="bold" text-anchor="middle" fill="#111" >Patient</text>
<text x="338.70" y="241.80" font-size="4.9" stroke="#111" stroke-width="0.12" font-weight="bold" text-anchor="middle" font-style="italic" fill="#111" >PRF1</text>
<text x="319.00" y="248.60" font-size="5.25" stroke="#111" stroke-width="0.12" font-weight="bold" text-anchor="middle" fill="#111" >allele 1</text>
<text x="357.50" y="248.60" font-size="5.25" stroke="#111" stroke-width="0.12" font-weight="bold" text-anchor="middle" fill="#111" >allele 2</text>
<text x="409.60" y="244.90" font-size="5.25" stroke="#111" stroke-width="0.12" font-weight="bold" text-anchor="middle" fill="#111" >Age of FHL onset</text>
<text x="478.20" y="244.90" font-size="5.25" stroke="#111" stroke-width="0.12" font-weight="bold" text-anchor="middle" fill="#111" >References</text>
<text x="286.20" y="257.97" font-size="4.5" text-anchor="middle" fill="#222" >1</text>
<text x="319.00" y="257.97" font-size="4.5" text-anchor="middle" fill="#222" >G220S*</text>
<text x="357.50" y="257.97" font-size="4.5" text-anchor="middle" fill="#222" >G220S*</text>
<text x="409.60" y="257.97" font-size="4.5" text-anchor="middle" fill="#222" >1.5 months</text>
<text x="478.20" y="257.97" font-size="4.5" text-anchor="middle" fill="#222" >Clementi <tspan font-style="italic">et al.</tspan>, 2001</text>
<text x="286.20" y="270.22" font-size="4.5" text-anchor="middle" fill="#222" >2</text>
<text x="319.00" y="270.22" font-size="4.5" text-anchor="middle" fill="#222" >G220S*</text>
<text x="357.50" y="270.22" font-size="4.5" text-anchor="middle" fill="#222" >L17fs</text>
<text x="409.60" y="270.22" font-size="4.5" text-anchor="middle" fill="#222" >NR</text>
<text x="478.20" y="270.22" font-size="4.5" text-anchor="middle" fill="#222" >Feldmann <tspan font-style="italic">et al.</tspan>, 2002</text>
<text x="286.20" y="281.77" font-size="4.5" text-anchor="middle" fill="#222" >3</text>
<text x="319.00" y="281.77" font-size="4.5" text-anchor="middle" fill="#222" >G220S*</text>
<text x="357.50" y="281.77" font-size="4.5" text-anchor="middle" fill="#222" >G220S*</text>
<text x="409.60" y="281.77" font-size="4.5" text-anchor="middle" fill="#222" >2 months</text>
<text x="478.20" y="281.77" font-size="4.5" text-anchor="middle" fill="#222" >Trizzino <tspan font-style="italic">et al.</tspan>, 2008</text>
<text x="286.20" y="293.37" font-size="4.5" text-anchor="middle" fill="#222" >4</text>
<text x="319.00" y="293.37" font-size="4.5" text-anchor="middle" fill="#222" >G220S*</text>
<text x="357.50" y="293.37" font-size="4.5" text-anchor="middle" fill="#222" >G220S*</text>
<text x="409.60" y="293.37" font-size="4.5" text-anchor="middle" fill="#222" >2 months</text>
<text x="478.20" y="293.37" font-size="4.5" text-anchor="middle" fill="#222" >Trizzino <tspan font-style="italic">et al.</tspan>, 2008</text>
<text x="286.20" y="304.97" font-size="4.5" text-anchor="middle" fill="#222" >5</text>
<text x="319.00" y="304.97" font-size="4.5" text-anchor="middle" fill="#222" >S168N*</text>
<text x="357.50" y="304.97" font-size="4.5" text-anchor="middle" fill="#222" >T450M</text>
<text x="409.60" y="304.97" font-size="4.5" text-anchor="middle" fill="#222" >6 years</text>
<text x="478.20" y="304.97" font-size="4.5" text-anchor="middle" fill="#222" >Lu <tspan font-style="italic">et al.</tspan>, 2009</text>
<text x="286.20" y="316.62" font-size="4.5" text-anchor="middle" fill="#222" >6</text>
<text x="319.00" y="316.62" font-size="4.5" text-anchor="middle" fill="#222" >S168N*</text>
<text x="357.50" y="316.62" font-size="4.5" text-anchor="middle" fill="#222" >C393R</text>
<text x="409.60" y="316.62" font-size="4.5" text-anchor="middle" fill="#222" >NR</text>
<text x="478.20" y="316.62" font-size="4.5" text-anchor="middle" fill="#222" >Liu <tspan font-style="italic">et al.</tspan>, 2011</text>
<text x="286.20" y="328.42" font-size="4.5" text-anchor="middle" fill="#222" >7</text>
<text x="319.00" y="328.42" font-size="4.5" text-anchor="middle" fill="#222" >W129S*</text>
<text x="357.50" y="328.42" font-size="4.5" text-anchor="middle" fill="#222" >T433P</text>
<text x="409.60" y="328.42" font-size="4.5" text-anchor="middle" fill="#222" >NR</text>
<text x="478.20" y="328.42" font-size="4.5" text-anchor="middle" fill="#222" >Meeths, 2010, pers. comm.</text>
<text x="272.60" y="341.80" font-size="4.45" fill="#333" >*, putative gain of glycosylation mutation; NR, not reported; fs, frameshift</text>
</svg>
</body></html>
